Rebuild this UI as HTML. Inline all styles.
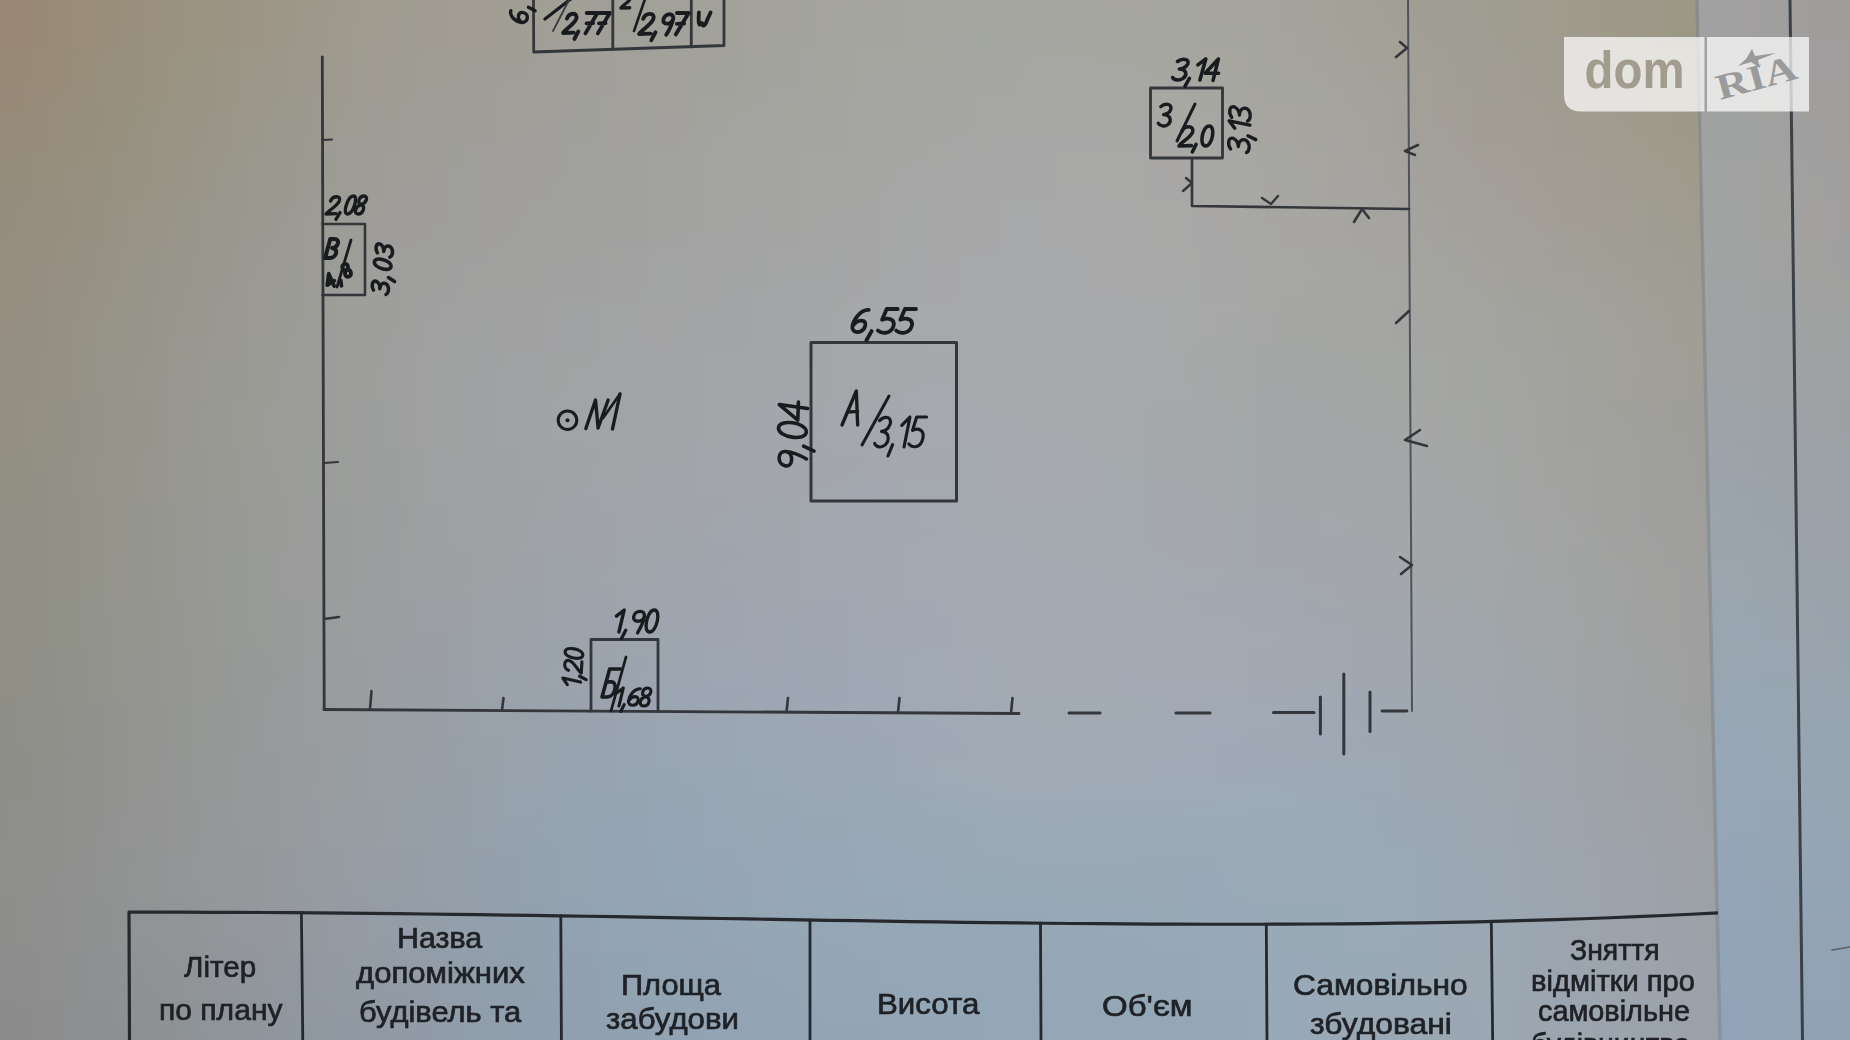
<!DOCTYPE html>
<html><head><meta charset="utf-8"><style>
html,body{margin:0;padding:0;width:1850px;height:1040px;overflow:hidden;background:#a0a2a2}
#root{position:absolute;left:0;top:0;width:1850px;height:1040px;overflow:hidden}
.abs{position:absolute}
.t{position:absolute;font-family:"Liberation Sans",sans-serif;color:#1e2125;-webkit-text-stroke:0.7px #1e2125;white-space:nowrap;line-height:1;transform-origin:0 0}
</style></head><body><div id="root">

<svg style="position:absolute;left:-150px;top:-150px" width="2150" height="1340"><defs><filter id="bp" x="0" y="0" width="2150" height="1340" filterUnits="userSpaceOnUse"><feGaussianBlur stdDeviation="30"/></filter></defs><g filter="url(#bp)"><rect x="0" y="0" width="51" height="51" fill="#998773"/><rect x="50" y="0" width="51" height="51" fill="#998773"/><rect x="100" y="0" width="51" height="51" fill="#998773"/><rect x="150" y="0" width="51" height="51" fill="#998875"/><rect x="200" y="0" width="51" height="51" fill="#998b77"/><rect x="250" y="0" width="51" height="51" fill="#9a8e7b"/><rect x="300" y="0" width="51" height="51" fill="#9a917e"/><rect x="350" y="0" width="51" height="51" fill="#9b9482"/><rect x="400" y="0" width="51" height="51" fill="#9d9686"/><rect x="450" y="0" width="51" height="51" fill="#9e988a"/><rect x="500" y="0" width="51" height="51" fill="#9f9a8e"/><rect x="550" y="0" width="51" height="51" fill="#a09c90"/><rect x="600" y="0" width="51" height="51" fill="#a19d92"/><rect x="650" y="0" width="51" height="51" fill="#a19e94"/><rect x="700" y="0" width="51" height="51" fill="#a19f95"/><rect x="750" y="0" width="51" height="51" fill="#a1a097"/><rect x="800" y="0" width="51" height="51" fill="#a2a198"/><rect x="850" y="0" width="51" height="51" fill="#a2a299"/><rect x="900" y="0" width="51" height="51" fill="#a3a39b"/><rect x="950" y="0" width="51" height="51" fill="#a4a49c"/><rect x="1000" y="0" width="51" height="51" fill="#a4a59d"/><rect x="1050" y="0" width="51" height="51" fill="#a5a69e"/><rect x="1100" y="0" width="51" height="51" fill="#a5a69f"/><rect x="1150" y="0" width="51" height="51" fill="#a5a6a0"/><rect x="1200" y="0" width="51" height="51" fill="#a6a69f"/><rect x="1250" y="0" width="51" height="51" fill="#a5a69f"/><rect x="1300" y="0" width="51" height="51" fill="#a5a59e"/><rect x="1350" y="0" width="51" height="51" fill="#a4a59d"/><rect x="1400" y="0" width="51" height="51" fill="#a4a49b"/><rect x="1450" y="0" width="51" height="51" fill="#a3a399"/><rect x="1500" y="0" width="51" height="51" fill="#a2a196"/><rect x="1550" y="0" width="51" height="51" fill="#a19f93"/><rect x="1600" y="0" width="51" height="51" fill="#a09d91"/><rect x="1650" y="0" width="51" height="51" fill="#9f9b8e"/><rect x="1700" y="0" width="51" height="51" fill="#9e9a8b"/><rect x="1750" y="0" width="51" height="51" fill="#9d9988"/><rect x="1800" y="0" width="51" height="51" fill="#9c9885"/><rect x="1850" y="0" width="51" height="51" fill="#9b9782"/><rect x="1900" y="0" width="51" height="51" fill="#9a9680"/><rect x="1950" y="0" width="51" height="51" fill="#99967e"/><rect x="2000" y="0" width="51" height="51" fill="#99957e"/><rect x="2050" y="0" width="51" height="51" fill="#99957e"/><rect x="2100" y="0" width="51" height="51" fill="#99957e"/><rect x="0" y="50" width="51" height="51" fill="#998773"/><rect x="50" y="50" width="51" height="51" fill="#998773"/><rect x="100" y="50" width="51" height="51" fill="#998773"/><rect x="150" y="50" width="51" height="51" fill="#998875"/><rect x="200" y="50" width="51" height="51" fill="#998b77"/><rect x="250" y="50" width="51" height="51" fill="#9a8e7b"/><rect x="300" y="50" width="51" height="51" fill="#9a917e"/><rect x="350" y="50" width="51" height="51" fill="#9b9482"/><rect x="400" y="50" width="51" height="51" fill="#9d9686"/><rect x="450" y="50" width="51" height="51" fill="#9e988a"/><rect x="500" y="50" width="51" height="51" fill="#9f9a8e"/><rect x="550" y="50" width="51" height="51" fill="#a09c90"/><rect x="600" y="50" width="51" height="51" fill="#a19d92"/><rect x="650" y="50" width="51" height="51" fill="#a19e94"/><rect x="700" y="50" width="51" height="51" fill="#a19f95"/><rect x="750" y="50" width="51" height="51" fill="#a1a097"/><rect x="800" y="50" width="51" height="51" fill="#a2a198"/><rect x="850" y="50" width="51" height="51" fill="#a2a299"/><rect x="900" y="50" width="51" height="51" fill="#a3a39b"/><rect x="950" y="50" width="51" height="51" fill="#a4a49c"/><rect x="1000" y="50" width="51" height="51" fill="#a4a59d"/><rect x="1050" y="50" width="51" height="51" fill="#a5a69e"/><rect x="1100" y="50" width="51" height="51" fill="#a5a69f"/><rect x="1150" y="50" width="51" height="51" fill="#a5a6a0"/><rect x="1200" y="50" width="51" height="51" fill="#a6a69f"/><rect x="1250" y="50" width="51" height="51" fill="#a5a69f"/><rect x="1300" y="50" width="51" height="51" fill="#a5a59e"/><rect x="1350" y="50" width="51" height="51" fill="#a4a59d"/><rect x="1400" y="50" width="51" height="51" fill="#a4a49b"/><rect x="1450" y="50" width="51" height="51" fill="#a3a399"/><rect x="1500" y="50" width="51" height="51" fill="#a2a196"/><rect x="1550" y="50" width="51" height="51" fill="#a19f93"/><rect x="1600" y="50" width="51" height="51" fill="#a09d91"/><rect x="1650" y="50" width="51" height="51" fill="#9f9b8e"/><rect x="1700" y="50" width="51" height="51" fill="#9e9a8b"/><rect x="1750" y="50" width="51" height="51" fill="#9d9988"/><rect x="1800" y="50" width="51" height="51" fill="#9c9885"/><rect x="1850" y="50" width="51" height="51" fill="#9b9782"/><rect x="1900" y="50" width="51" height="51" fill="#9a9680"/><rect x="1950" y="50" width="51" height="51" fill="#99967e"/><rect x="2000" y="50" width="51" height="51" fill="#99957e"/><rect x="2050" y="50" width="51" height="51" fill="#99957e"/><rect x="2100" y="50" width="51" height="51" fill="#99957e"/><rect x="0" y="100" width="51" height="51" fill="#998773"/><rect x="50" y="100" width="51" height="51" fill="#998773"/><rect x="100" y="100" width="51" height="51" fill="#998773"/><rect x="150" y="100" width="51" height="51" fill="#998875"/><rect x="200" y="100" width="51" height="51" fill="#998b77"/><rect x="250" y="100" width="51" height="51" fill="#9a8e7b"/><rect x="300" y="100" width="51" height="51" fill="#9a917e"/><rect x="350" y="100" width="51" height="51" fill="#9b9482"/><rect x="400" y="100" width="51" height="51" fill="#9d9686"/><rect x="450" y="100" width="51" height="51" fill="#9e988a"/><rect x="500" y="100" width="51" height="51" fill="#9f9a8e"/><rect x="550" y="100" width="51" height="51" fill="#a09c90"/><rect x="600" y="100" width="51" height="51" fill="#a19d92"/><rect x="650" y="100" width="51" height="51" fill="#a19e94"/><rect x="700" y="100" width="51" height="51" fill="#a19f95"/><rect x="750" y="100" width="51" height="51" fill="#a1a097"/><rect x="800" y="100" width="51" height="51" fill="#a2a198"/><rect x="850" y="100" width="51" height="51" fill="#a2a299"/><rect x="900" y="100" width="51" height="51" fill="#a3a39b"/><rect x="950" y="100" width="51" height="51" fill="#a4a49c"/><rect x="1000" y="100" width="51" height="51" fill="#a4a59d"/><rect x="1050" y="100" width="51" height="51" fill="#a5a69e"/><rect x="1100" y="100" width="51" height="51" fill="#a5a69f"/><rect x="1150" y="100" width="51" height="51" fill="#a5a6a0"/><rect x="1200" y="100" width="51" height="51" fill="#a6a69f"/><rect x="1250" y="100" width="51" height="51" fill="#a5a69f"/><rect x="1300" y="100" width="51" height="51" fill="#a5a59e"/><rect x="1350" y="100" width="51" height="51" fill="#a4a59d"/><rect x="1400" y="100" width="51" height="51" fill="#a4a49b"/><rect x="1450" y="100" width="51" height="51" fill="#a3a399"/><rect x="1500" y="100" width="51" height="51" fill="#a2a196"/><rect x="1550" y="100" width="51" height="51" fill="#a19f93"/><rect x="1600" y="100" width="51" height="51" fill="#a09d91"/><rect x="1650" y="100" width="51" height="51" fill="#9f9b8e"/><rect x="1700" y="100" width="51" height="51" fill="#9e9a8b"/><rect x="1750" y="100" width="51" height="51" fill="#9d9988"/><rect x="1800" y="100" width="51" height="51" fill="#9c9885"/><rect x="1850" y="100" width="51" height="51" fill="#9b9782"/><rect x="1900" y="100" width="51" height="51" fill="#9a9680"/><rect x="1950" y="100" width="51" height="51" fill="#99967e"/><rect x="2000" y="100" width="51" height="51" fill="#99957e"/><rect x="2050" y="100" width="51" height="51" fill="#99957e"/><rect x="2100" y="100" width="51" height="51" fill="#99957e"/><rect x="0" y="150" width="51" height="51" fill="#998774"/><rect x="50" y="150" width="51" height="51" fill="#998774"/><rect x="100" y="150" width="51" height="51" fill="#998774"/><rect x="150" y="150" width="51" height="51" fill="#998975"/><rect x="200" y="150" width="51" height="51" fill="#998c78"/><rect x="250" y="150" width="51" height="51" fill="#998f7b"/><rect x="300" y="150" width="51" height="51" fill="#9a927f"/><rect x="350" y="150" width="51" height="51" fill="#9b9483"/><rect x="400" y="150" width="51" height="51" fill="#9c9688"/><rect x="450" y="150" width="51" height="51" fill="#9e998c"/><rect x="500" y="150" width="51" height="51" fill="#9f9b8f"/><rect x="550" y="150" width="51" height="51" fill="#a09c92"/><rect x="600" y="150" width="51" height="51" fill="#a19d94"/><rect x="650" y="150" width="51" height="51" fill="#a19e95"/><rect x="700" y="150" width="51" height="51" fill="#a19f97"/><rect x="750" y="150" width="51" height="51" fill="#a1a098"/><rect x="800" y="150" width="51" height="51" fill="#a2a199"/><rect x="850" y="150" width="51" height="51" fill="#a2a29a"/><rect x="900" y="150" width="51" height="51" fill="#a3a39c"/><rect x="950" y="150" width="51" height="51" fill="#a4a49d"/><rect x="1000" y="150" width="51" height="51" fill="#a5a59f"/><rect x="1050" y="150" width="51" height="51" fill="#a5a6a0"/><rect x="1100" y="150" width="51" height="51" fill="#a5a6a0"/><rect x="1150" y="150" width="51" height="51" fill="#a6a6a1"/><rect x="1200" y="150" width="51" height="51" fill="#a6a6a1"/><rect x="1250" y="150" width="51" height="51" fill="#a6a6a0"/><rect x="1300" y="150" width="51" height="51" fill="#a5a69f"/><rect x="1350" y="150" width="51" height="51" fill="#a5a59e"/><rect x="1400" y="150" width="51" height="51" fill="#a4a49c"/><rect x="1450" y="150" width="51" height="51" fill="#a3a39a"/><rect x="1500" y="150" width="51" height="51" fill="#a2a197"/><rect x="1550" y="150" width="51" height="51" fill="#a19f95"/><rect x="1600" y="150" width="51" height="51" fill="#a09d92"/><rect x="1650" y="150" width="51" height="51" fill="#9f9c8f"/><rect x="1700" y="150" width="51" height="51" fill="#9f9a8c"/><rect x="1750" y="150" width="51" height="51" fill="#9e9989"/><rect x="1800" y="150" width="51" height="51" fill="#9c9886"/><rect x="1850" y="150" width="51" height="51" fill="#9b9783"/><rect x="1900" y="150" width="51" height="51" fill="#9a9781"/><rect x="1950" y="150" width="51" height="51" fill="#99967f"/><rect x="2000" y="150" width="51" height="51" fill="#99967f"/><rect x="2050" y="150" width="51" height="51" fill="#99967f"/><rect x="2100" y="150" width="51" height="51" fill="#99967f"/><rect x="0" y="200" width="51" height="51" fill="#988876"/><rect x="50" y="200" width="51" height="51" fill="#988876"/><rect x="100" y="200" width="51" height="51" fill="#988876"/><rect x="150" y="200" width="51" height="51" fill="#988a77"/><rect x="200" y="200" width="51" height="51" fill="#988d7a"/><rect x="250" y="200" width="51" height="51" fill="#98907d"/><rect x="300" y="200" width="51" height="51" fill="#999381"/><rect x="350" y="200" width="51" height="51" fill="#9a9586"/><rect x="400" y="200" width="51" height="51" fill="#9c978a"/><rect x="450" y="200" width="51" height="51" fill="#9d998e"/><rect x="500" y="200" width="51" height="51" fill="#9f9b92"/><rect x="550" y="200" width="51" height="51" fill="#a09d94"/><rect x="600" y="200" width="51" height="51" fill="#a09e96"/><rect x="650" y="200" width="51" height="51" fill="#a09f97"/><rect x="700" y="200" width="51" height="51" fill="#a19f99"/><rect x="750" y="200" width="51" height="51" fill="#a1a09a"/><rect x="800" y="200" width="51" height="51" fill="#a2a19b"/><rect x="850" y="200" width="51" height="51" fill="#a2a29c"/><rect x="900" y="200" width="51" height="51" fill="#a3a39e"/><rect x="950" y="200" width="51" height="51" fill="#a4a59f"/><rect x="1000" y="200" width="51" height="51" fill="#a5a6a1"/><rect x="1050" y="200" width="51" height="51" fill="#a6a6a2"/><rect x="1100" y="200" width="51" height="51" fill="#a6a7a3"/><rect x="1150" y="200" width="51" height="51" fill="#a6a7a3"/><rect x="1200" y="200" width="51" height="51" fill="#a7a7a3"/><rect x="1250" y="200" width="51" height="51" fill="#a7a7a3"/><rect x="1300" y="200" width="51" height="51" fill="#a6a6a2"/><rect x="1350" y="200" width="51" height="51" fill="#a6a6a0"/><rect x="1400" y="200" width="51" height="51" fill="#a5a59f"/><rect x="1450" y="200" width="51" height="51" fill="#a4a49c"/><rect x="1500" y="200" width="51" height="51" fill="#a3a29a"/><rect x="1550" y="200" width="51" height="51" fill="#a2a097"/><rect x="1600" y="200" width="51" height="51" fill="#a19e94"/><rect x="1650" y="200" width="51" height="51" fill="#a19c91"/><rect x="1700" y="200" width="51" height="51" fill="#a09b8e"/><rect x="1750" y="200" width="51" height="51" fill="#9f9a8b"/><rect x="1800" y="200" width="51" height="51" fill="#9d9988"/><rect x="1850" y="200" width="51" height="51" fill="#9c9885"/><rect x="1900" y="200" width="51" height="51" fill="#9b9783"/><rect x="1950" y="200" width="51" height="51" fill="#9a9781"/><rect x="2000" y="200" width="51" height="51" fill="#999680"/><rect x="2050" y="200" width="51" height="51" fill="#999680"/><rect x="2100" y="200" width="51" height="51" fill="#999680"/><rect x="0" y="250" width="51" height="51" fill="#978a78"/><rect x="50" y="250" width="51" height="51" fill="#978a78"/><rect x="100" y="250" width="51" height="51" fill="#978a78"/><rect x="150" y="250" width="51" height="51" fill="#978b79"/><rect x="200" y="250" width="51" height="51" fill="#978e7c"/><rect x="250" y="250" width="51" height="51" fill="#97917f"/><rect x="300" y="250" width="51" height="51" fill="#989384"/><rect x="350" y="250" width="51" height="51" fill="#999688"/><rect x="400" y="250" width="51" height="51" fill="#9b988d"/><rect x="450" y="250" width="51" height="51" fill="#9d9a91"/><rect x="500" y="250" width="51" height="51" fill="#9e9c94"/><rect x="550" y="250" width="51" height="51" fill="#9f9d97"/><rect x="600" y="250" width="51" height="51" fill="#a09e98"/><rect x="650" y="250" width="51" height="51" fill="#a09f9a"/><rect x="700" y="250" width="51" height="51" fill="#a0a09b"/><rect x="750" y="250" width="51" height="51" fill="#a1a09c"/><rect x="800" y="250" width="51" height="51" fill="#a2a19d"/><rect x="850" y="250" width="51" height="51" fill="#a3a39e"/><rect x="900" y="250" width="51" height="51" fill="#a4a4a0"/><rect x="950" y="250" width="51" height="51" fill="#a4a5a1"/><rect x="1000" y="250" width="51" height="51" fill="#a5a6a3"/><rect x="1050" y="250" width="51" height="51" fill="#a6a6a4"/><rect x="1100" y="250" width="51" height="51" fill="#a6a7a5"/><rect x="1150" y="250" width="51" height="51" fill="#a7a7a6"/><rect x="1200" y="250" width="51" height="51" fill="#a7a7a6"/><rect x="1250" y="250" width="51" height="51" fill="#a7a7a5"/><rect x="1300" y="250" width="51" height="51" fill="#a7a7a4"/><rect x="1350" y="250" width="51" height="51" fill="#a7a6a2"/><rect x="1400" y="250" width="51" height="51" fill="#a6a5a1"/><rect x="1450" y="250" width="51" height="51" fill="#a5a49e"/><rect x="1500" y="250" width="51" height="51" fill="#a4a29c"/><rect x="1550" y="250" width="51" height="51" fill="#a3a099"/><rect x="1600" y="250" width="51" height="51" fill="#a29e96"/><rect x="1650" y="250" width="51" height="51" fill="#a29d93"/><rect x="1700" y="250" width="51" height="51" fill="#a19b90"/><rect x="1750" y="250" width="51" height="51" fill="#a09a8d"/><rect x="1800" y="250" width="51" height="51" fill="#9e9a8a"/><rect x="1850" y="250" width="51" height="51" fill="#9c9987"/><rect x="1900" y="250" width="51" height="51" fill="#9b9885"/><rect x="1950" y="250" width="51" height="51" fill="#9a9784"/><rect x="2000" y="250" width="51" height="51" fill="#9a9783"/><rect x="2050" y="250" width="51" height="51" fill="#9a9783"/><rect x="2100" y="250" width="51" height="51" fill="#9a9783"/><rect x="0" y="300" width="51" height="51" fill="#968b7a"/><rect x="50" y="300" width="51" height="51" fill="#968b7a"/><rect x="100" y="300" width="51" height="51" fill="#968b7a"/><rect x="150" y="300" width="51" height="51" fill="#968c7c"/><rect x="200" y="300" width="51" height="51" fill="#978f7f"/><rect x="250" y="300" width="51" height="51" fill="#979282"/><rect x="300" y="300" width="51" height="51" fill="#989486"/><rect x="350" y="300" width="51" height="51" fill="#99968b"/><rect x="400" y="300" width="51" height="51" fill="#9b998f"/><rect x="450" y="300" width="51" height="51" fill="#9c9b93"/><rect x="500" y="300" width="51" height="51" fill="#9e9c96"/><rect x="550" y="300" width="51" height="51" fill="#9f9e99"/><rect x="600" y="300" width="51" height="51" fill="#a09f9b"/><rect x="650" y="300" width="51" height="51" fill="#a09f9c"/><rect x="700" y="300" width="51" height="51" fill="#a0a09d"/><rect x="750" y="300" width="51" height="51" fill="#a1a19e"/><rect x="800" y="300" width="51" height="51" fill="#a2a29f"/><rect x="850" y="300" width="51" height="51" fill="#a3a3a0"/><rect x="900" y="300" width="51" height="51" fill="#a4a4a2"/><rect x="950" y="300" width="51" height="51" fill="#a5a5a3"/><rect x="1000" y="300" width="51" height="51" fill="#a6a6a5"/><rect x="1050" y="300" width="51" height="51" fill="#a6a7a6"/><rect x="1100" y="300" width="51" height="51" fill="#a7a7a7"/><rect x="1150" y="300" width="51" height="51" fill="#a7a7a7"/><rect x="1200" y="300" width="51" height="51" fill="#a8a8a7"/><rect x="1250" y="300" width="51" height="51" fill="#a8a8a7"/><rect x="1300" y="300" width="51" height="51" fill="#a8a7a6"/><rect x="1350" y="300" width="51" height="51" fill="#a7a7a4"/><rect x="1400" y="300" width="51" height="51" fill="#a6a6a2"/><rect x="1450" y="300" width="51" height="51" fill="#a6a5a0"/><rect x="1500" y="300" width="51" height="51" fill="#a5a39e"/><rect x="1550" y="300" width="51" height="51" fill="#a4a19c"/><rect x="1600" y="300" width="51" height="51" fill="#a39f99"/><rect x="1650" y="300" width="51" height="51" fill="#a39e96"/><rect x="1700" y="300" width="51" height="51" fill="#a29c93"/><rect x="1750" y="300" width="51" height="51" fill="#a19c90"/><rect x="1800" y="300" width="51" height="51" fill="#9f9b8d"/><rect x="1850" y="300" width="51" height="51" fill="#9d9a8a"/><rect x="1900" y="300" width="51" height="51" fill="#9c9988"/><rect x="1950" y="300" width="51" height="51" fill="#9b9886"/><rect x="2000" y="300" width="51" height="51" fill="#9b9885"/><rect x="2050" y="300" width="51" height="51" fill="#9b9885"/><rect x="2100" y="300" width="51" height="51" fill="#9b9885"/><rect x="0" y="350" width="51" height="51" fill="#968b7d"/><rect x="50" y="350" width="51" height="51" fill="#968b7d"/><rect x="100" y="350" width="51" height="51" fill="#968b7d"/><rect x="150" y="350" width="51" height="51" fill="#968d7e"/><rect x="200" y="350" width="51" height="51" fill="#969082"/><rect x="250" y="350" width="51" height="51" fill="#979285"/><rect x="300" y="350" width="51" height="51" fill="#989589"/><rect x="350" y="350" width="51" height="51" fill="#99978d"/><rect x="400" y="350" width="51" height="51" fill="#9b9991"/><rect x="450" y="350" width="51" height="51" fill="#9c9b95"/><rect x="500" y="350" width="51" height="51" fill="#9e9d99"/><rect x="550" y="350" width="51" height="51" fill="#9f9e9b"/><rect x="600" y="350" width="51" height="51" fill="#a09f9d"/><rect x="650" y="350" width="51" height="51" fill="#a0a09e"/><rect x="700" y="350" width="51" height="51" fill="#a1a19f"/><rect x="750" y="350" width="51" height="51" fill="#a1a1a0"/><rect x="800" y="350" width="51" height="51" fill="#a2a2a1"/><rect x="850" y="350" width="51" height="51" fill="#a3a3a2"/><rect x="900" y="350" width="51" height="51" fill="#a4a4a3"/><rect x="950" y="350" width="51" height="51" fill="#a5a5a5"/><rect x="1000" y="350" width="51" height="51" fill="#a6a6a6"/><rect x="1050" y="350" width="51" height="51" fill="#a6a7a7"/><rect x="1100" y="350" width="51" height="51" fill="#a7a7a8"/><rect x="1150" y="350" width="51" height="51" fill="#a7a8a9"/><rect x="1200" y="350" width="51" height="51" fill="#a8a8a9"/><rect x="1250" y="350" width="51" height="51" fill="#a8a8a8"/><rect x="1300" y="350" width="51" height="51" fill="#a8a8a7"/><rect x="1350" y="350" width="51" height="51" fill="#a8a7a6"/><rect x="1400" y="350" width="51" height="51" fill="#a7a6a4"/><rect x="1450" y="350" width="51" height="51" fill="#a6a5a2"/><rect x="1500" y="350" width="51" height="51" fill="#a5a4a0"/><rect x="1550" y="350" width="51" height="51" fill="#a4a29e"/><rect x="1600" y="350" width="51" height="51" fill="#a4a19b"/><rect x="1650" y="350" width="51" height="51" fill="#a39f99"/><rect x="1700" y="350" width="51" height="51" fill="#a29e96"/><rect x="1750" y="350" width="51" height="51" fill="#a19d93"/><rect x="1800" y="350" width="51" height="51" fill="#9f9c90"/><rect x="1850" y="350" width="51" height="51" fill="#9e9b8d"/><rect x="1900" y="350" width="51" height="51" fill="#9d9a8b"/><rect x="1950" y="350" width="51" height="51" fill="#9c9989"/><rect x="2000" y="350" width="51" height="51" fill="#9c9888"/><rect x="2050" y="350" width="51" height="51" fill="#9c9888"/><rect x="2100" y="350" width="51" height="51" fill="#9c9888"/><rect x="0" y="400" width="51" height="51" fill="#958c7f"/><rect x="50" y="400" width="51" height="51" fill="#958c7f"/><rect x="100" y="400" width="51" height="51" fill="#958c7f"/><rect x="150" y="400" width="51" height="51" fill="#968d80"/><rect x="200" y="400" width="51" height="51" fill="#969084"/><rect x="250" y="400" width="51" height="51" fill="#979387"/><rect x="300" y="400" width="51" height="51" fill="#98968b"/><rect x="350" y="400" width="51" height="51" fill="#999890"/><rect x="400" y="400" width="51" height="51" fill="#9b9a94"/><rect x="450" y="400" width="51" height="51" fill="#9c9c97"/><rect x="500" y="400" width="51" height="51" fill="#9e9e9b"/><rect x="550" y="400" width="51" height="51" fill="#9f9f9e"/><rect x="600" y="400" width="51" height="51" fill="#a0a09f"/><rect x="650" y="400" width="51" height="51" fill="#a1a1a0"/><rect x="700" y="400" width="51" height="51" fill="#a1a1a1"/><rect x="750" y="400" width="51" height="51" fill="#a2a2a2"/><rect x="800" y="400" width="51" height="51" fill="#a2a3a3"/><rect x="850" y="400" width="51" height="51" fill="#a3a4a4"/><rect x="900" y="400" width="51" height="51" fill="#a4a5a5"/><rect x="950" y="400" width="51" height="51" fill="#a5a6a6"/><rect x="1000" y="400" width="51" height="51" fill="#a6a6a8"/><rect x="1050" y="400" width="51" height="51" fill="#a6a7a9"/><rect x="1100" y="400" width="51" height="51" fill="#a7a8a9"/><rect x="1150" y="400" width="51" height="51" fill="#a7a8aa"/><rect x="1200" y="400" width="51" height="51" fill="#a7a8a9"/><rect x="1250" y="400" width="51" height="51" fill="#a8a8a9"/><rect x="1300" y="400" width="51" height="51" fill="#a8a8a8"/><rect x="1350" y="400" width="51" height="51" fill="#a7a7a7"/><rect x="1400" y="400" width="51" height="51" fill="#a7a7a5"/><rect x="1450" y="400" width="51" height="51" fill="#a6a6a3"/><rect x="1500" y="400" width="51" height="51" fill="#a5a5a1"/><rect x="1550" y="400" width="51" height="51" fill="#a4a4a0"/><rect x="1600" y="400" width="51" height="51" fill="#a3a29e"/><rect x="1650" y="400" width="51" height="51" fill="#a2a19c"/><rect x="1700" y="400" width="51" height="51" fill="#a2a099"/><rect x="1750" y="400" width="51" height="51" fill="#a19f96"/><rect x="1800" y="400" width="51" height="51" fill="#a09e93"/><rect x="1850" y="400" width="51" height="51" fill="#9f9c91"/><rect x="1900" y="400" width="51" height="51" fill="#9e9b8e"/><rect x="1950" y="400" width="51" height="51" fill="#9d998c"/><rect x="2000" y="400" width="51" height="51" fill="#9c998a"/><rect x="2050" y="400" width="51" height="51" fill="#9c998a"/><rect x="2100" y="400" width="51" height="51" fill="#9c998a"/><rect x="0" y="450" width="51" height="51" fill="#948d80"/><rect x="50" y="450" width="51" height="51" fill="#948d80"/><rect x="100" y="450" width="51" height="51" fill="#948d80"/><rect x="150" y="450" width="51" height="51" fill="#958e82"/><rect x="200" y="450" width="51" height="51" fill="#969185"/><rect x="250" y="450" width="51" height="51" fill="#979489"/><rect x="300" y="450" width="51" height="51" fill="#98968d"/><rect x="350" y="450" width="51" height="51" fill="#999991"/><rect x="400" y="450" width="51" height="51" fill="#9b9b95"/><rect x="450" y="450" width="51" height="51" fill="#9c9d99"/><rect x="500" y="450" width="51" height="51" fill="#9e9e9c"/><rect x="550" y="450" width="51" height="51" fill="#9fa09f"/><rect x="600" y="450" width="51" height="51" fill="#a0a1a1"/><rect x="650" y="450" width="51" height="51" fill="#a1a1a2"/><rect x="700" y="450" width="51" height="51" fill="#a1a2a3"/><rect x="750" y="450" width="51" height="51" fill="#a2a3a4"/><rect x="800" y="450" width="51" height="51" fill="#a3a4a4"/><rect x="850" y="450" width="51" height="51" fill="#a3a4a6"/><rect x="900" y="450" width="51" height="51" fill="#a4a5a7"/><rect x="950" y="450" width="51" height="51" fill="#a5a6a8"/><rect x="1000" y="450" width="51" height="51" fill="#a5a7a9"/><rect x="1050" y="450" width="51" height="51" fill="#a6a8aa"/><rect x="1100" y="450" width="51" height="51" fill="#a6a8aa"/><rect x="1150" y="450" width="51" height="51" fill="#a6a9aa"/><rect x="1200" y="450" width="51" height="51" fill="#a7a9aa"/><rect x="1250" y="450" width="51" height="51" fill="#a7a9aa"/><rect x="1300" y="450" width="51" height="51" fill="#a7a8a8"/><rect x="1350" y="450" width="51" height="51" fill="#a6a8a7"/><rect x="1400" y="450" width="51" height="51" fill="#a6a7a5"/><rect x="1450" y="450" width="51" height="51" fill="#a5a6a4"/><rect x="1500" y="450" width="51" height="51" fill="#a5a5a3"/><rect x="1550" y="450" width="51" height="51" fill="#a4a5a2"/><rect x="1600" y="450" width="51" height="51" fill="#a3a4a0"/><rect x="1650" y="450" width="51" height="51" fill="#a2a39e"/><rect x="1700" y="450" width="51" height="51" fill="#a1a29b"/><rect x="1750" y="450" width="51" height="51" fill="#a1a099"/><rect x="1800" y="450" width="51" height="51" fill="#a19e96"/><rect x="1850" y="450" width="51" height="51" fill="#a09d93"/><rect x="1900" y="450" width="51" height="51" fill="#9f9b91"/><rect x="1950" y="450" width="51" height="51" fill="#9d9a8e"/><rect x="2000" y="450" width="51" height="51" fill="#9d998d"/><rect x="2050" y="450" width="51" height="51" fill="#9d998d"/><rect x="2100" y="450" width="51" height="51" fill="#9d998d"/><rect x="0" y="500" width="51" height="51" fill="#938d81"/><rect x="50" y="500" width="51" height="51" fill="#938d81"/><rect x="100" y="500" width="51" height="51" fill="#938d81"/><rect x="150" y="500" width="51" height="51" fill="#948f82"/><rect x="200" y="500" width="51" height="51" fill="#959186"/><rect x="250" y="500" width="51" height="51" fill="#96948a"/><rect x="300" y="500" width="51" height="51" fill="#98978f"/><rect x="350" y="500" width="51" height="51" fill="#999993"/><rect x="400" y="500" width="51" height="51" fill="#9b9b97"/><rect x="450" y="500" width="51" height="51" fill="#9c9d9a"/><rect x="500" y="500" width="51" height="51" fill="#9e9f9d"/><rect x="550" y="500" width="51" height="51" fill="#9fa0a0"/><rect x="600" y="500" width="51" height="51" fill="#a0a1a2"/><rect x="650" y="500" width="51" height="51" fill="#a1a2a3"/><rect x="700" y="500" width="51" height="51" fill="#a1a3a4"/><rect x="750" y="500" width="51" height="51" fill="#a2a3a5"/><rect x="800" y="500" width="51" height="51" fill="#a2a4a6"/><rect x="850" y="500" width="51" height="51" fill="#a3a5a7"/><rect x="900" y="500" width="51" height="51" fill="#a4a5a8"/><rect x="950" y="500" width="51" height="51" fill="#a5a6aa"/><rect x="1000" y="500" width="51" height="51" fill="#a5a7aa"/><rect x="1050" y="500" width="51" height="51" fill="#a5a8ab"/><rect x="1100" y="500" width="51" height="51" fill="#a5a9ab"/><rect x="1150" y="500" width="51" height="51" fill="#a6a9ab"/><rect x="1200" y="500" width="51" height="51" fill="#a6a9ab"/><rect x="1250" y="500" width="51" height="51" fill="#a6a9aa"/><rect x="1300" y="500" width="51" height="51" fill="#a6a8a9"/><rect x="1350" y="500" width="51" height="51" fill="#a5a8a7"/><rect x="1400" y="500" width="51" height="51" fill="#a4a7a6"/><rect x="1450" y="500" width="51" height="51" fill="#a4a7a5"/><rect x="1500" y="500" width="51" height="51" fill="#a4a6a4"/><rect x="1550" y="500" width="51" height="51" fill="#a4a6a3"/><rect x="1600" y="500" width="51" height="51" fill="#a4a5a2"/><rect x="1650" y="500" width="51" height="51" fill="#a2a4a0"/><rect x="1700" y="500" width="51" height="51" fill="#a1a29d"/><rect x="1750" y="500" width="51" height="51" fill="#a1a09a"/><rect x="1800" y="500" width="51" height="51" fill="#a19f98"/><rect x="1850" y="500" width="51" height="51" fill="#a09d96"/><rect x="1900" y="500" width="51" height="51" fill="#9f9c93"/><rect x="1950" y="500" width="51" height="51" fill="#9d9a91"/><rect x="2000" y="500" width="51" height="51" fill="#9d9a8f"/><rect x="2050" y="500" width="51" height="51" fill="#9d9a8f"/><rect x="2100" y="500" width="51" height="51" fill="#9d9a8f"/><rect x="0" y="550" width="51" height="51" fill="#928e81"/><rect x="50" y="550" width="51" height="51" fill="#928e81"/><rect x="100" y="550" width="51" height="51" fill="#928e81"/><rect x="150" y="550" width="51" height="51" fill="#938f83"/><rect x="200" y="550" width="51" height="51" fill="#949287"/><rect x="250" y="550" width="51" height="51" fill="#96948b"/><rect x="300" y="550" width="51" height="51" fill="#97978f"/><rect x="350" y="550" width="51" height="51" fill="#999a94"/><rect x="400" y="550" width="51" height="51" fill="#9b9c97"/><rect x="450" y="550" width="51" height="51" fill="#9c9d9b"/><rect x="500" y="550" width="51" height="51" fill="#9d9f9e"/><rect x="550" y="550" width="51" height="51" fill="#9fa0a0"/><rect x="600" y="550" width="51" height="51" fill="#a0a1a2"/><rect x="650" y="550" width="51" height="51" fill="#a0a2a4"/><rect x="700" y="550" width="51" height="51" fill="#a1a3a5"/><rect x="750" y="550" width="51" height="51" fill="#a1a4a6"/><rect x="800" y="550" width="51" height="51" fill="#a2a4a7"/><rect x="850" y="550" width="51" height="51" fill="#a3a5a9"/><rect x="900" y="550" width="51" height="51" fill="#a3a6aa"/><rect x="950" y="550" width="51" height="51" fill="#a4a6ab"/><rect x="1000" y="550" width="51" height="51" fill="#a4a7ac"/><rect x="1050" y="550" width="51" height="51" fill="#a5a8ad"/><rect x="1100" y="550" width="51" height="51" fill="#a5a9ad"/><rect x="1150" y="550" width="51" height="51" fill="#a5a9ac"/><rect x="1200" y="550" width="51" height="51" fill="#a5a9ac"/><rect x="1250" y="550" width="51" height="51" fill="#a5a9ab"/><rect x="1300" y="550" width="51" height="51" fill="#a5a8aa"/><rect x="1350" y="550" width="51" height="51" fill="#a4a8a8"/><rect x="1400" y="550" width="51" height="51" fill="#a3a7a7"/><rect x="1450" y="550" width="51" height="51" fill="#a4a7a7"/><rect x="1500" y="550" width="51" height="51" fill="#a4a7a6"/><rect x="1550" y="550" width="51" height="51" fill="#a5a6a5"/><rect x="1600" y="550" width="51" height="51" fill="#a4a6a4"/><rect x="1650" y="550" width="51" height="51" fill="#a3a4a1"/><rect x="1700" y="550" width="51" height="51" fill="#a1a29e"/><rect x="1750" y="550" width="51" height="51" fill="#a0a09c"/><rect x="1800" y="550" width="51" height="51" fill="#9f9f9a"/><rect x="1850" y="550" width="51" height="51" fill="#9f9d97"/><rect x="1900" y="550" width="51" height="51" fill="#9e9c95"/><rect x="1950" y="550" width="51" height="51" fill="#9d9a92"/><rect x="2000" y="550" width="51" height="51" fill="#9d9a91"/><rect x="2050" y="550" width="51" height="51" fill="#9d9a91"/><rect x="2100" y="550" width="51" height="51" fill="#9d9a91"/><rect x="0" y="600" width="51" height="51" fill="#918e81"/><rect x="50" y="600" width="51" height="51" fill="#918e81"/><rect x="100" y="600" width="51" height="51" fill="#918e81"/><rect x="150" y="600" width="51" height="51" fill="#928f83"/><rect x="200" y="600" width="51" height="51" fill="#939287"/><rect x="250" y="600" width="51" height="51" fill="#95958c"/><rect x="300" y="600" width="51" height="51" fill="#979790"/><rect x="350" y="600" width="51" height="51" fill="#999994"/><rect x="400" y="600" width="51" height="51" fill="#9a9c98"/><rect x="450" y="600" width="51" height="51" fill="#9c9d9b"/><rect x="500" y="600" width="51" height="51" fill="#9d9f9e"/><rect x="550" y="600" width="51" height="51" fill="#9ea0a1"/><rect x="600" y="600" width="51" height="51" fill="#9fa1a3"/><rect x="650" y="600" width="51" height="51" fill="#a0a2a4"/><rect x="700" y="600" width="51" height="51" fill="#a0a3a6"/><rect x="750" y="600" width="51" height="51" fill="#a1a4a7"/><rect x="800" y="600" width="51" height="51" fill="#a1a5a9"/><rect x="850" y="600" width="51" height="51" fill="#a2a5aa"/><rect x="900" y="600" width="51" height="51" fill="#a3a6ac"/><rect x="950" y="600" width="51" height="51" fill="#a3a7ad"/><rect x="1000" y="600" width="51" height="51" fill="#a4a7ae"/><rect x="1050" y="600" width="51" height="51" fill="#a4a8ae"/><rect x="1100" y="600" width="51" height="51" fill="#a4a9ae"/><rect x="1150" y="600" width="51" height="51" fill="#a5a9ae"/><rect x="1200" y="600" width="51" height="51" fill="#a5a9ad"/><rect x="1250" y="600" width="51" height="51" fill="#a4a9ac"/><rect x="1300" y="600" width="51" height="51" fill="#a4a8ab"/><rect x="1350" y="600" width="51" height="51" fill="#a4a8aa"/><rect x="1400" y="600" width="51" height="51" fill="#a3a7a9"/><rect x="1450" y="600" width="51" height="51" fill="#a4a7a9"/><rect x="1500" y="600" width="51" height="51" fill="#a4a7a8"/><rect x="1550" y="600" width="51" height="51" fill="#a4a7a7"/><rect x="1600" y="600" width="51" height="51" fill="#a4a6a5"/><rect x="1650" y="600" width="51" height="51" fill="#a3a5a3"/><rect x="1700" y="600" width="51" height="51" fill="#a2a3a0"/><rect x="1750" y="600" width="51" height="51" fill="#a0a19e"/><rect x="1800" y="600" width="51" height="51" fill="#9f9f9b"/><rect x="1850" y="600" width="51" height="51" fill="#9e9d99"/><rect x="1900" y="600" width="51" height="51" fill="#9e9c97"/><rect x="1950" y="600" width="51" height="51" fill="#9d9b94"/><rect x="2000" y="600" width="51" height="51" fill="#9d9a93"/><rect x="2050" y="600" width="51" height="51" fill="#9d9a93"/><rect x="2100" y="600" width="51" height="51" fill="#9d9a93"/><rect x="0" y="650" width="51" height="51" fill="#908e82"/><rect x="50" y="650" width="51" height="51" fill="#908e82"/><rect x="100" y="650" width="51" height="51" fill="#908e82"/><rect x="150" y="650" width="51" height="51" fill="#918f84"/><rect x="200" y="650" width="51" height="51" fill="#939288"/><rect x="250" y="650" width="51" height="51" fill="#94948c"/><rect x="300" y="650" width="51" height="51" fill="#969790"/><rect x="350" y="650" width="51" height="51" fill="#989994"/><rect x="400" y="650" width="51" height="51" fill="#9a9b98"/><rect x="450" y="650" width="51" height="51" fill="#9b9d9b"/><rect x="500" y="650" width="51" height="51" fill="#9c9e9e"/><rect x="550" y="650" width="51" height="51" fill="#9da0a1"/><rect x="600" y="650" width="51" height="51" fill="#9ea1a3"/><rect x="650" y="650" width="51" height="51" fill="#9fa2a5"/><rect x="700" y="650" width="51" height="51" fill="#9fa3a7"/><rect x="750" y="650" width="51" height="51" fill="#a0a4a9"/><rect x="800" y="650" width="51" height="51" fill="#a1a5aa"/><rect x="850" y="650" width="51" height="51" fill="#a1a5ac"/><rect x="900" y="650" width="51" height="51" fill="#a2a6ae"/><rect x="950" y="650" width="51" height="51" fill="#a3a7af"/><rect x="1000" y="650" width="51" height="51" fill="#a3a7b0"/><rect x="1050" y="650" width="51" height="51" fill="#a4a8b0"/><rect x="1100" y="650" width="51" height="51" fill="#a4a9b0"/><rect x="1150" y="650" width="51" height="51" fill="#a4a9b0"/><rect x="1200" y="650" width="51" height="51" fill="#a4a9af"/><rect x="1250" y="650" width="51" height="51" fill="#a4a9ae"/><rect x="1300" y="650" width="51" height="51" fill="#a4a8ad"/><rect x="1350" y="650" width="51" height="51" fill="#a4a8ac"/><rect x="1400" y="650" width="51" height="51" fill="#a3a7ac"/><rect x="1450" y="650" width="51" height="51" fill="#a4a7ab"/><rect x="1500" y="650" width="51" height="51" fill="#a4a7aa"/><rect x="1550" y="650" width="51" height="51" fill="#a4a7a9"/><rect x="1600" y="650" width="51" height="51" fill="#a4a6a7"/><rect x="1650" y="650" width="51" height="51" fill="#a3a5a4"/><rect x="1700" y="650" width="51" height="51" fill="#a2a3a2"/><rect x="1750" y="650" width="51" height="51" fill="#a0a19f"/><rect x="1800" y="650" width="51" height="51" fill="#9f9f9d"/><rect x="1850" y="650" width="51" height="51" fill="#9e9e9b"/><rect x="1900" y="650" width="51" height="51" fill="#9e9c98"/><rect x="1950" y="650" width="51" height="51" fill="#9d9b96"/><rect x="2000" y="650" width="51" height="51" fill="#9d9a95"/><rect x="2050" y="650" width="51" height="51" fill="#9d9a95"/><rect x="2100" y="650" width="51" height="51" fill="#9d9a95"/><rect x="0" y="700" width="51" height="51" fill="#8f8e83"/><rect x="50" y="700" width="51" height="51" fill="#8f8e83"/><rect x="100" y="700" width="51" height="51" fill="#8f8e83"/><rect x="150" y="700" width="51" height="51" fill="#908f85"/><rect x="200" y="700" width="51" height="51" fill="#929288"/><rect x="250" y="700" width="51" height="51" fill="#94948d"/><rect x="300" y="700" width="51" height="51" fill="#969791"/><rect x="350" y="700" width="51" height="51" fill="#979995"/><rect x="400" y="700" width="51" height="51" fill="#999b99"/><rect x="450" y="700" width="51" height="51" fill="#9b9d9c"/><rect x="500" y="700" width="51" height="51" fill="#9c9e9f"/><rect x="550" y="700" width="51" height="51" fill="#9d9fa2"/><rect x="600" y="700" width="51" height="51" fill="#9da1a4"/><rect x="650" y="700" width="51" height="51" fill="#9ea2a6"/><rect x="700" y="700" width="51" height="51" fill="#9ea3a8"/><rect x="750" y="700" width="51" height="51" fill="#9fa4aa"/><rect x="800" y="700" width="51" height="51" fill="#9fa5ac"/><rect x="850" y="700" width="51" height="51" fill="#a0a5ae"/><rect x="900" y="700" width="51" height="51" fill="#a1a6af"/><rect x="950" y="700" width="51" height="51" fill="#a2a7b1"/><rect x="1000" y="700" width="51" height="51" fill="#a2a7b1"/><rect x="1050" y="700" width="51" height="51" fill="#a3a8b2"/><rect x="1100" y="700" width="51" height="51" fill="#a4a9b2"/><rect x="1150" y="700" width="51" height="51" fill="#a4a9b1"/><rect x="1200" y="700" width="51" height="51" fill="#a4a9b1"/><rect x="1250" y="700" width="51" height="51" fill="#a4a9b0"/><rect x="1300" y="700" width="51" height="51" fill="#a4a8af"/><rect x="1350" y="700" width="51" height="51" fill="#a4a8af"/><rect x="1400" y="700" width="51" height="51" fill="#a3a7ae"/><rect x="1450" y="700" width="51" height="51" fill="#a3a7ad"/><rect x="1500" y="700" width="51" height="51" fill="#a3a7ac"/><rect x="1550" y="700" width="51" height="51" fill="#a3a7aa"/><rect x="1600" y="700" width="51" height="51" fill="#a2a6a8"/><rect x="1650" y="700" width="51" height="51" fill="#a2a5a5"/><rect x="1700" y="700" width="51" height="51" fill="#a1a4a3"/><rect x="1750" y="700" width="51" height="51" fill="#a1a2a1"/><rect x="1800" y="700" width="51" height="51" fill="#a0a09f"/><rect x="1850" y="700" width="51" height="51" fill="#9f9e9c"/><rect x="1900" y="700" width="51" height="51" fill="#9e9d99"/><rect x="1950" y="700" width="51" height="51" fill="#9d9b97"/><rect x="2000" y="700" width="51" height="51" fill="#9d9b96"/><rect x="2050" y="700" width="51" height="51" fill="#9d9b96"/><rect x="2100" y="700" width="51" height="51" fill="#9d9b96"/><rect x="0" y="750" width="51" height="51" fill="#8f8e84"/><rect x="50" y="750" width="51" height="51" fill="#8f8e84"/><rect x="100" y="750" width="51" height="51" fill="#8f8e84"/><rect x="150" y="750" width="51" height="51" fill="#8f8f85"/><rect x="200" y="750" width="51" height="51" fill="#919289"/><rect x="250" y="750" width="51" height="51" fill="#93948d"/><rect x="300" y="750" width="51" height="51" fill="#959691"/><rect x="350" y="750" width="51" height="51" fill="#979995"/><rect x="400" y="750" width="51" height="51" fill="#999b99"/><rect x="450" y="750" width="51" height="51" fill="#9a9c9c"/><rect x="500" y="750" width="51" height="51" fill="#9b9ea0"/><rect x="550" y="750" width="51" height="51" fill="#9c9fa3"/><rect x="600" y="750" width="51" height="51" fill="#9ca1a5"/><rect x="650" y="750" width="51" height="51" fill="#9ca2a8"/><rect x="700" y="750" width="51" height="51" fill="#9ca3aa"/><rect x="750" y="750" width="51" height="51" fill="#9da4ac"/><rect x="800" y="750" width="51" height="51" fill="#9ea5ae"/><rect x="850" y="750" width="51" height="51" fill="#9fa5b0"/><rect x="900" y="750" width="51" height="51" fill="#a0a6b1"/><rect x="950" y="750" width="51" height="51" fill="#a1a7b2"/><rect x="1000" y="750" width="51" height="51" fill="#a1a8b3"/><rect x="1050" y="750" width="51" height="51" fill="#a2a8b3"/><rect x="1100" y="750" width="51" height="51" fill="#a3a9b3"/><rect x="1150" y="750" width="51" height="51" fill="#a4a9b3"/><rect x="1200" y="750" width="51" height="51" fill="#a4a9b2"/><rect x="1250" y="750" width="51" height="51" fill="#a4a9b2"/><rect x="1300" y="750" width="51" height="51" fill="#a4a9b1"/><rect x="1350" y="750" width="51" height="51" fill="#a3a8b1"/><rect x="1400" y="750" width="51" height="51" fill="#a3a8b0"/><rect x="1450" y="750" width="51" height="51" fill="#a2a7af"/><rect x="1500" y="750" width="51" height="51" fill="#a2a7ae"/><rect x="1550" y="750" width="51" height="51" fill="#a1a6ac"/><rect x="1600" y="750" width="51" height="51" fill="#a1a6aa"/><rect x="1650" y="750" width="51" height="51" fill="#a1a5a7"/><rect x="1700" y="750" width="51" height="51" fill="#a1a4a4"/><rect x="1750" y="750" width="51" height="51" fill="#a0a2a2"/><rect x="1800" y="750" width="51" height="51" fill="#a0a09f"/><rect x="1850" y="750" width="51" height="51" fill="#9f9e9d"/><rect x="1900" y="750" width="51" height="51" fill="#9e9d9a"/><rect x="1950" y="750" width="51" height="51" fill="#9d9c98"/><rect x="2000" y="750" width="51" height="51" fill="#9c9b97"/><rect x="2050" y="750" width="51" height="51" fill="#9c9b97"/><rect x="2100" y="750" width="51" height="51" fill="#9c9b97"/><rect x="0" y="800" width="51" height="51" fill="#8e8e84"/><rect x="50" y="800" width="51" height="51" fill="#8e8e84"/><rect x="100" y="800" width="51" height="51" fill="#8e8e84"/><rect x="150" y="800" width="51" height="51" fill="#8f8f86"/><rect x="200" y="800" width="51" height="51" fill="#90918a"/><rect x="250" y="800" width="51" height="51" fill="#92948e"/><rect x="300" y="800" width="51" height="51" fill="#959692"/><rect x="350" y="800" width="51" height="51" fill="#969896"/><rect x="400" y="800" width="51" height="51" fill="#989a9a"/><rect x="450" y="800" width="51" height="51" fill="#999c9d"/><rect x="500" y="800" width="51" height="51" fill="#9a9ea1"/><rect x="550" y="800" width="51" height="51" fill="#9a9fa4"/><rect x="600" y="800" width="51" height="51" fill="#9aa1a7"/><rect x="650" y="800" width="51" height="51" fill="#9aa2aa"/><rect x="700" y="800" width="51" height="51" fill="#9ba3ac"/><rect x="750" y="800" width="51" height="51" fill="#9ba4ae"/><rect x="800" y="800" width="51" height="51" fill="#9ca5b0"/><rect x="850" y="800" width="51" height="51" fill="#9da6b1"/><rect x="900" y="800" width="51" height="51" fill="#9ea6b3"/><rect x="950" y="800" width="51" height="51" fill="#9fa7b3"/><rect x="1000" y="800" width="51" height="51" fill="#a0a8b4"/><rect x="1050" y="800" width="51" height="51" fill="#a1a9b4"/><rect x="1100" y="800" width="51" height="51" fill="#a2a9b4"/><rect x="1150" y="800" width="51" height="51" fill="#a3aab4"/><rect x="1200" y="800" width="51" height="51" fill="#a3aab4"/><rect x="1250" y="800" width="51" height="51" fill="#a3a9b3"/><rect x="1300" y="800" width="51" height="51" fill="#a3a9b3"/><rect x="1350" y="800" width="51" height="51" fill="#a2a9b3"/><rect x="1400" y="800" width="51" height="51" fill="#a2a8b2"/><rect x="1450" y="800" width="51" height="51" fill="#a1a8b2"/><rect x="1500" y="800" width="51" height="51" fill="#a0a7b0"/><rect x="1550" y="800" width="51" height="51" fill="#a0a7ae"/><rect x="1600" y="800" width="51" height="51" fill="#a0a6ac"/><rect x="1650" y="800" width="51" height="51" fill="#a0a5a9"/><rect x="1700" y="800" width="51" height="51" fill="#a0a4a6"/><rect x="1750" y="800" width="51" height="51" fill="#a0a2a3"/><rect x="1800" y="800" width="51" height="51" fill="#9fa0a0"/><rect x="1850" y="800" width="51" height="51" fill="#9e9f9d"/><rect x="1900" y="800" width="51" height="51" fill="#9d9d9b"/><rect x="1950" y="800" width="51" height="51" fill="#9d9c99"/><rect x="2000" y="800" width="51" height="51" fill="#9c9b98"/><rect x="2050" y="800" width="51" height="51" fill="#9c9b98"/><rect x="2100" y="800" width="51" height="51" fill="#9c9b98"/><rect x="0" y="850" width="51" height="51" fill="#8d8d86"/><rect x="50" y="850" width="51" height="51" fill="#8d8d86"/><rect x="100" y="850" width="51" height="51" fill="#8d8d86"/><rect x="150" y="850" width="51" height="51" fill="#8e8f87"/><rect x="200" y="850" width="51" height="51" fill="#90918b"/><rect x="250" y="850" width="51" height="51" fill="#92938f"/><rect x="300" y="850" width="51" height="51" fill="#949693"/><rect x="350" y="850" width="51" height="51" fill="#969897"/><rect x="400" y="850" width="51" height="51" fill="#989a9b"/><rect x="450" y="850" width="51" height="51" fill="#999c9e"/><rect x="500" y="850" width="51" height="51" fill="#999ea2"/><rect x="550" y="850" width="51" height="51" fill="#999fa5"/><rect x="600" y="850" width="51" height="51" fill="#99a1a8"/><rect x="650" y="850" width="51" height="51" fill="#99a2ab"/><rect x="700" y="850" width="51" height="51" fill="#98a3ae"/><rect x="750" y="850" width="51" height="51" fill="#99a4b0"/><rect x="800" y="850" width="51" height="51" fill="#9aa5b2"/><rect x="850" y="850" width="51" height="51" fill="#9ba6b3"/><rect x="900" y="850" width="51" height="51" fill="#9ca7b4"/><rect x="950" y="850" width="51" height="51" fill="#9da7b4"/><rect x="1000" y="850" width="51" height="51" fill="#9ea8b5"/><rect x="1050" y="850" width="51" height="51" fill="#a0a9b5"/><rect x="1100" y="850" width="51" height="51" fill="#a1a9b5"/><rect x="1150" y="850" width="51" height="51" fill="#a2aab5"/><rect x="1200" y="850" width="51" height="51" fill="#a2aab4"/><rect x="1250" y="850" width="51" height="51" fill="#a2aab5"/><rect x="1300" y="850" width="51" height="51" fill="#a1a9b5"/><rect x="1350" y="850" width="51" height="51" fill="#a1a9b5"/><rect x="1400" y="850" width="51" height="51" fill="#a0a9b4"/><rect x="1450" y="850" width="51" height="51" fill="#9fa8b4"/><rect x="1500" y="850" width="51" height="51" fill="#9fa8b2"/><rect x="1550" y="850" width="51" height="51" fill="#9fa7b0"/><rect x="1600" y="850" width="51" height="51" fill="#9fa6ae"/><rect x="1650" y="850" width="51" height="51" fill="#9fa5ab"/><rect x="1700" y="850" width="51" height="51" fill="#9fa4a8"/><rect x="1750" y="850" width="51" height="51" fill="#9fa2a4"/><rect x="1800" y="850" width="51" height="51" fill="#9ea1a1"/><rect x="1850" y="850" width="51" height="51" fill="#9d9f9f"/><rect x="1900" y="850" width="51" height="51" fill="#9d9e9d"/><rect x="1950" y="850" width="51" height="51" fill="#9c9c9b"/><rect x="2000" y="850" width="51" height="51" fill="#9c9c9a"/><rect x="2050" y="850" width="51" height="51" fill="#9c9c9a"/><rect x="2100" y="850" width="51" height="51" fill="#9c9c9a"/><rect x="0" y="900" width="51" height="51" fill="#8d8d87"/><rect x="50" y="900" width="51" height="51" fill="#8d8d87"/><rect x="100" y="900" width="51" height="51" fill="#8d8d87"/><rect x="150" y="900" width="51" height="51" fill="#8e8e89"/><rect x="200" y="900" width="51" height="51" fill="#90918d"/><rect x="250" y="900" width="51" height="51" fill="#929390"/><rect x="300" y="900" width="51" height="51" fill="#949694"/><rect x="350" y="900" width="51" height="51" fill="#969898"/><rect x="400" y="900" width="51" height="51" fill="#979a9b"/><rect x="450" y="900" width="51" height="51" fill="#989c9f"/><rect x="500" y="900" width="51" height="51" fill="#989ea3"/><rect x="550" y="900" width="51" height="51" fill="#989fa6"/><rect x="600" y="900" width="51" height="51" fill="#97a1a9"/><rect x="650" y="900" width="51" height="51" fill="#97a2ad"/><rect x="700" y="900" width="51" height="51" fill="#96a3af"/><rect x="750" y="900" width="51" height="51" fill="#97a4b1"/><rect x="800" y="900" width="51" height="51" fill="#97a5b3"/><rect x="850" y="900" width="51" height="51" fill="#99a6b4"/><rect x="900" y="900" width="51" height="51" fill="#9aa7b4"/><rect x="950" y="900" width="51" height="51" fill="#9ba7b5"/><rect x="1000" y="900" width="51" height="51" fill="#9ca8b5"/><rect x="1050" y="900" width="51" height="51" fill="#9da9b5"/><rect x="1100" y="900" width="51" height="51" fill="#9faab5"/><rect x="1150" y="900" width="51" height="51" fill="#a0aab5"/><rect x="1200" y="900" width="51" height="51" fill="#9faab5"/><rect x="1250" y="900" width="51" height="51" fill="#9faab5"/><rect x="1300" y="900" width="51" height="51" fill="#9faab6"/><rect x="1350" y="900" width="51" height="51" fill="#9fa9b6"/><rect x="1400" y="900" width="51" height="51" fill="#9ea9b6"/><rect x="1450" y="900" width="51" height="51" fill="#9da9b5"/><rect x="1500" y="900" width="51" height="51" fill="#9da9b4"/><rect x="1550" y="900" width="51" height="51" fill="#9da8b3"/><rect x="1600" y="900" width="51" height="51" fill="#9ea7b0"/><rect x="1650" y="900" width="51" height="51" fill="#9ea5ad"/><rect x="1700" y="900" width="51" height="51" fill="#9ea4aa"/><rect x="1750" y="900" width="51" height="51" fill="#9ea2a7"/><rect x="1800" y="900" width="51" height="51" fill="#9ea1a4"/><rect x="1850" y="900" width="51" height="51" fill="#9d9fa1"/><rect x="1900" y="900" width="51" height="51" fill="#9d9e9f"/><rect x="1950" y="900" width="51" height="51" fill="#9c9d9d"/><rect x="2000" y="900" width="51" height="51" fill="#9c9c9c"/><rect x="2050" y="900" width="51" height="51" fill="#9c9c9c"/><rect x="2100" y="900" width="51" height="51" fill="#9c9c9c"/><rect x="0" y="950" width="51" height="51" fill="#8d8d88"/><rect x="50" y="950" width="51" height="51" fill="#8d8d88"/><rect x="100" y="950" width="51" height="51" fill="#8d8d88"/><rect x="150" y="950" width="51" height="51" fill="#8e8e8a"/><rect x="200" y="950" width="51" height="51" fill="#90918e"/><rect x="250" y="950" width="51" height="51" fill="#929392"/><rect x="300" y="950" width="51" height="51" fill="#949595"/><rect x="350" y="950" width="51" height="51" fill="#959899"/><rect x="400" y="950" width="51" height="51" fill="#979a9c"/><rect x="450" y="950" width="51" height="51" fill="#979ca0"/><rect x="500" y="950" width="51" height="51" fill="#979ea3"/><rect x="550" y="950" width="51" height="51" fill="#969fa7"/><rect x="600" y="950" width="51" height="51" fill="#96a1aa"/><rect x="650" y="950" width="51" height="51" fill="#95a2ae"/><rect x="700" y="950" width="51" height="51" fill="#94a3b0"/><rect x="750" y="950" width="51" height="51" fill="#95a4b2"/><rect x="800" y="950" width="51" height="51" fill="#95a5b3"/><rect x="850" y="950" width="51" height="51" fill="#97a6b4"/><rect x="900" y="950" width="51" height="51" fill="#98a7b5"/><rect x="950" y="950" width="51" height="51" fill="#99a7b5"/><rect x="1000" y="950" width="51" height="51" fill="#9aa8b6"/><rect x="1050" y="950" width="51" height="51" fill="#9ba9b6"/><rect x="1100" y="950" width="51" height="51" fill="#9ba9b6"/><rect x="1150" y="950" width="51" height="51" fill="#9caab6"/><rect x="1200" y="950" width="51" height="51" fill="#9caab6"/><rect x="1250" y="950" width="51" height="51" fill="#9caab6"/><rect x="1300" y="950" width="51" height="51" fill="#9ca9b6"/><rect x="1350" y="950" width="51" height="51" fill="#9caab7"/><rect x="1400" y="950" width="51" height="51" fill="#9caab7"/><rect x="1450" y="950" width="51" height="51" fill="#9caab7"/><rect x="1500" y="950" width="51" height="51" fill="#9ba9b6"/><rect x="1550" y="950" width="51" height="51" fill="#9ca9b4"/><rect x="1600" y="950" width="51" height="51" fill="#9ca7b2"/><rect x="1650" y="950" width="51" height="51" fill="#9da6af"/><rect x="1700" y="950" width="51" height="51" fill="#9ea4ac"/><rect x="1750" y="950" width="51" height="51" fill="#9ea3a9"/><rect x="1800" y="950" width="51" height="51" fill="#9da1a6"/><rect x="1850" y="950" width="51" height="51" fill="#9da0a3"/><rect x="1900" y="950" width="51" height="51" fill="#9c9ea1"/><rect x="1950" y="950" width="51" height="51" fill="#9c9d9f"/><rect x="2000" y="950" width="51" height="51" fill="#9c9d9e"/><rect x="2050" y="950" width="51" height="51" fill="#9c9d9e"/><rect x="2100" y="950" width="51" height="51" fill="#9c9d9e"/><rect x="0" y="1000" width="51" height="51" fill="#8d8d8a"/><rect x="50" y="1000" width="51" height="51" fill="#8d8d8a"/><rect x="100" y="1000" width="51" height="51" fill="#8d8d8a"/><rect x="150" y="1000" width="51" height="51" fill="#8e8e8c"/><rect x="200" y="1000" width="51" height="51" fill="#909090"/><rect x="250" y="1000" width="51" height="51" fill="#919393"/><rect x="300" y="1000" width="51" height="51" fill="#939596"/><rect x="350" y="1000" width="51" height="51" fill="#949799"/><rect x="400" y="1000" width="51" height="51" fill="#96999d"/><rect x="450" y="1000" width="51" height="51" fill="#969ba0"/><rect x="500" y="1000" width="51" height="51" fill="#969da4"/><rect x="550" y="1000" width="51" height="51" fill="#959ea8"/><rect x="600" y="1000" width="51" height="51" fill="#94a0ab"/><rect x="650" y="1000" width="51" height="51" fill="#94a1ae"/><rect x="700" y="1000" width="51" height="51" fill="#93a3b0"/><rect x="750" y="1000" width="51" height="51" fill="#93a4b2"/><rect x="800" y="1000" width="51" height="51" fill="#94a5b3"/><rect x="850" y="1000" width="51" height="51" fill="#95a5b4"/><rect x="900" y="1000" width="51" height="51" fill="#96a6b5"/><rect x="950" y="1000" width="51" height="51" fill="#97a7b5"/><rect x="1000" y="1000" width="51" height="51" fill="#97a8b6"/><rect x="1050" y="1000" width="51" height="51" fill="#98a8b6"/><rect x="1100" y="1000" width="51" height="51" fill="#98a9b6"/><rect x="1150" y="1000" width="51" height="51" fill="#98a9b6"/><rect x="1200" y="1000" width="51" height="51" fill="#99a9b6"/><rect x="1250" y="1000" width="51" height="51" fill="#99a9b6"/><rect x="1300" y="1000" width="51" height="51" fill="#9aa9b6"/><rect x="1350" y="1000" width="51" height="51" fill="#9aa9b7"/><rect x="1400" y="1000" width="51" height="51" fill="#9aaab7"/><rect x="1450" y="1000" width="51" height="51" fill="#9aaab7"/><rect x="1500" y="1000" width="51" height="51" fill="#9aaab7"/><rect x="1550" y="1000" width="51" height="51" fill="#9ba9b5"/><rect x="1600" y="1000" width="51" height="51" fill="#9ba8b3"/><rect x="1650" y="1000" width="51" height="51" fill="#9ca6b0"/><rect x="1700" y="1000" width="51" height="51" fill="#9da5ad"/><rect x="1750" y="1000" width="51" height="51" fill="#9da3ab"/><rect x="1800" y="1000" width="51" height="51" fill="#9da2a8"/><rect x="1850" y="1000" width="51" height="51" fill="#9ca0a5"/><rect x="1900" y="1000" width="51" height="51" fill="#9c9fa3"/><rect x="1950" y="1000" width="51" height="51" fill="#9b9ea1"/><rect x="2000" y="1000" width="51" height="51" fill="#9b9da0"/><rect x="2050" y="1000" width="51" height="51" fill="#9b9da0"/><rect x="2100" y="1000" width="51" height="51" fill="#9b9da0"/><rect x="0" y="1050" width="51" height="51" fill="#8d8c8b"/><rect x="50" y="1050" width="51" height="51" fill="#8d8c8b"/><rect x="100" y="1050" width="51" height="51" fill="#8d8c8b"/><rect x="150" y="1050" width="51" height="51" fill="#8e8e8d"/><rect x="200" y="1050" width="51" height="51" fill="#8f9090"/><rect x="250" y="1050" width="51" height="51" fill="#909293"/><rect x="300" y="1050" width="51" height="51" fill="#929496"/><rect x="350" y="1050" width="51" height="51" fill="#93969a"/><rect x="400" y="1050" width="51" height="51" fill="#94989d"/><rect x="450" y="1050" width="51" height="51" fill="#949aa1"/><rect x="500" y="1050" width="51" height="51" fill="#949ca5"/><rect x="550" y="1050" width="51" height="51" fill="#939ea8"/><rect x="600" y="1050" width="51" height="51" fill="#939fab"/><rect x="650" y="1050" width="51" height="51" fill="#92a1ae"/><rect x="700" y="1050" width="51" height="51" fill="#92a2b0"/><rect x="750" y="1050" width="51" height="51" fill="#92a3b2"/><rect x="800" y="1050" width="51" height="51" fill="#93a4b3"/><rect x="850" y="1050" width="51" height="51" fill="#94a5b4"/><rect x="900" y="1050" width="51" height="51" fill="#95a6b5"/><rect x="950" y="1050" width="51" height="51" fill="#95a6b5"/><rect x="1000" y="1050" width="51" height="51" fill="#96a7b6"/><rect x="1050" y="1050" width="51" height="51" fill="#96a8b6"/><rect x="1100" y="1050" width="51" height="51" fill="#96a8b6"/><rect x="1150" y="1050" width="51" height="51" fill="#96a8b6"/><rect x="1200" y="1050" width="51" height="51" fill="#96a8b6"/><rect x="1250" y="1050" width="51" height="51" fill="#97a8b6"/><rect x="1300" y="1050" width="51" height="51" fill="#97a9b6"/><rect x="1350" y="1050" width="51" height="51" fill="#98a9b7"/><rect x="1400" y="1050" width="51" height="51" fill="#99a9b7"/><rect x="1450" y="1050" width="51" height="51" fill="#99aab7"/><rect x="1500" y="1050" width="51" height="51" fill="#9aaab7"/><rect x="1550" y="1050" width="51" height="51" fill="#9aa9b5"/><rect x="1600" y="1050" width="51" height="51" fill="#9ba8b3"/><rect x="1650" y="1050" width="51" height="51" fill="#9ba6b0"/><rect x="1700" y="1050" width="51" height="51" fill="#9ca5ae"/><rect x="1750" y="1050" width="51" height="51" fill="#9ca3ac"/><rect x="1800" y="1050" width="51" height="51" fill="#9ca2a9"/><rect x="1850" y="1050" width="51" height="51" fill="#9ca1a7"/><rect x="1900" y="1050" width="51" height="51" fill="#9b9fa5"/><rect x="1950" y="1050" width="51" height="51" fill="#9b9ea2"/><rect x="2000" y="1050" width="51" height="51" fill="#9b9ea1"/><rect x="2050" y="1050" width="51" height="51" fill="#9b9ea1"/><rect x="2100" y="1050" width="51" height="51" fill="#9b9ea1"/><rect x="0" y="1100" width="51" height="51" fill="#8c8c8b"/><rect x="50" y="1100" width="51" height="51" fill="#8c8c8b"/><rect x="100" y="1100" width="51" height="51" fill="#8c8c8b"/><rect x="150" y="1100" width="51" height="51" fill="#8d8d8d"/><rect x="200" y="1100" width="51" height="51" fill="#8e8f90"/><rect x="250" y="1100" width="51" height="51" fill="#8f9193"/><rect x="300" y="1100" width="51" height="51" fill="#909396"/><rect x="350" y="1100" width="51" height="51" fill="#919599"/><rect x="400" y="1100" width="51" height="51" fill="#91979d"/><rect x="450" y="1100" width="51" height="51" fill="#9299a1"/><rect x="500" y="1100" width="51" height="51" fill="#929ba5"/><rect x="550" y="1100" width="51" height="51" fill="#929da8"/><rect x="600" y="1100" width="51" height="51" fill="#919eab"/><rect x="650" y="1100" width="51" height="51" fill="#91a0ad"/><rect x="700" y="1100" width="51" height="51" fill="#91a1af"/><rect x="750" y="1100" width="51" height="51" fill="#91a2b1"/><rect x="800" y="1100" width="51" height="51" fill="#92a3b2"/><rect x="850" y="1100" width="51" height="51" fill="#93a4b3"/><rect x="900" y="1100" width="51" height="51" fill="#93a5b4"/><rect x="950" y="1100" width="51" height="51" fill="#94a6b5"/><rect x="1000" y="1100" width="51" height="51" fill="#94a6b6"/><rect x="1050" y="1100" width="51" height="51" fill="#95a7b6"/><rect x="1100" y="1100" width="51" height="51" fill="#95a7b6"/><rect x="1150" y="1100" width="51" height="51" fill="#95a7b6"/><rect x="1200" y="1100" width="51" height="51" fill="#95a8b6"/><rect x="1250" y="1100" width="51" height="51" fill="#95a8b6"/><rect x="1300" y="1100" width="51" height="51" fill="#96a8b6"/><rect x="1350" y="1100" width="51" height="51" fill="#97a8b6"/><rect x="1400" y="1100" width="51" height="51" fill="#98a9b7"/><rect x="1450" y="1100" width="51" height="51" fill="#99a9b6"/><rect x="1500" y="1100" width="51" height="51" fill="#99a9b6"/><rect x="1550" y="1100" width="51" height="51" fill="#9aa9b4"/><rect x="1600" y="1100" width="51" height="51" fill="#9ba8b2"/><rect x="1650" y="1100" width="51" height="51" fill="#9ba6b0"/><rect x="1700" y="1100" width="51" height="51" fill="#9ba5af"/><rect x="1750" y="1100" width="51" height="51" fill="#9ca4ad"/><rect x="1800" y="1100" width="51" height="51" fill="#9ca2aa"/><rect x="1850" y="1100" width="51" height="51" fill="#9ba1a8"/><rect x="1900" y="1100" width="51" height="51" fill="#9ba0a6"/><rect x="1950" y="1100" width="51" height="51" fill="#9b9fa4"/><rect x="2000" y="1100" width="51" height="51" fill="#9b9ea3"/><rect x="2050" y="1100" width="51" height="51" fill="#9b9ea3"/><rect x="2100" y="1100" width="51" height="51" fill="#9b9ea3"/><rect x="0" y="1150" width="51" height="51" fill="#8b8b8b"/><rect x="50" y="1150" width="51" height="51" fill="#8b8b8b"/><rect x="100" y="1150" width="51" height="51" fill="#8b8b8b"/><rect x="150" y="1150" width="51" height="51" fill="#8c8c8c"/><rect x="200" y="1150" width="51" height="51" fill="#8d8e8f"/><rect x="250" y="1150" width="51" height="51" fill="#8d9092"/><rect x="300" y="1150" width="51" height="51" fill="#8e9295"/><rect x="350" y="1150" width="51" height="51" fill="#8f9499"/><rect x="400" y="1150" width="51" height="51" fill="#8f969d"/><rect x="450" y="1150" width="51" height="51" fill="#9098a1"/><rect x="500" y="1150" width="51" height="51" fill="#909aa4"/><rect x="550" y="1150" width="51" height="51" fill="#909ba7"/><rect x="600" y="1150" width="51" height="51" fill="#909daa"/><rect x="650" y="1150" width="51" height="51" fill="#909fad"/><rect x="700" y="1150" width="51" height="51" fill="#90a0af"/><rect x="750" y="1150" width="51" height="51" fill="#91a1b0"/><rect x="800" y="1150" width="51" height="51" fill="#91a2b2"/><rect x="850" y="1150" width="51" height="51" fill="#92a3b3"/><rect x="900" y="1150" width="51" height="51" fill="#92a4b4"/><rect x="950" y="1150" width="51" height="51" fill="#93a5b5"/><rect x="1000" y="1150" width="51" height="51" fill="#93a5b5"/><rect x="1050" y="1150" width="51" height="51" fill="#94a6b6"/><rect x="1100" y="1150" width="51" height="51" fill="#94a6b6"/><rect x="1150" y="1150" width="51" height="51" fill="#94a7b6"/><rect x="1200" y="1150" width="51" height="51" fill="#94a7b6"/><rect x="1250" y="1150" width="51" height="51" fill="#94a7b6"/><rect x="1300" y="1150" width="51" height="51" fill="#95a7b6"/><rect x="1350" y="1150" width="51" height="51" fill="#96a8b6"/><rect x="1400" y="1150" width="51" height="51" fill="#97a8b6"/><rect x="1450" y="1150" width="51" height="51" fill="#98a8b6"/><rect x="1500" y="1150" width="51" height="51" fill="#99a8b5"/><rect x="1550" y="1150" width="51" height="51" fill="#9aa8b4"/><rect x="1600" y="1150" width="51" height="51" fill="#9aa7b2"/><rect x="1650" y="1150" width="51" height="51" fill="#9ba6b1"/><rect x="1700" y="1150" width="51" height="51" fill="#9ba5af"/><rect x="1750" y="1150" width="51" height="51" fill="#9ba4ad"/><rect x="1800" y="1150" width="51" height="51" fill="#9ba2ab"/><rect x="1850" y="1150" width="51" height="51" fill="#9ba1a9"/><rect x="1900" y="1150" width="51" height="51" fill="#9ba0a7"/><rect x="1950" y="1150" width="51" height="51" fill="#9a9fa5"/><rect x="2000" y="1150" width="51" height="51" fill="#9a9ea4"/><rect x="2050" y="1150" width="51" height="51" fill="#9a9ea4"/><rect x="2100" y="1150" width="51" height="51" fill="#9a9ea4"/><rect x="0" y="1200" width="51" height="51" fill="#8b8b8b"/><rect x="50" y="1200" width="51" height="51" fill="#8b8b8b"/><rect x="100" y="1200" width="51" height="51" fill="#8b8b8b"/><rect x="150" y="1200" width="51" height="51" fill="#8c8c8c"/><rect x="200" y="1200" width="51" height="51" fill="#8c8e8f"/><rect x="250" y="1200" width="51" height="51" fill="#8d8f92"/><rect x="300" y="1200" width="51" height="51" fill="#8d9195"/><rect x="350" y="1200" width="51" height="51" fill="#8e9399"/><rect x="400" y="1200" width="51" height="51" fill="#8f959d"/><rect x="450" y="1200" width="51" height="51" fill="#8f97a1"/><rect x="500" y="1200" width="51" height="51" fill="#9099a4"/><rect x="550" y="1200" width="51" height="51" fill="#909ba7"/><rect x="600" y="1200" width="51" height="51" fill="#909daa"/><rect x="650" y="1200" width="51" height="51" fill="#909eac"/><rect x="700" y="1200" width="51" height="51" fill="#90a0af"/><rect x="750" y="1200" width="51" height="51" fill="#90a1b0"/><rect x="800" y="1200" width="51" height="51" fill="#91a2b2"/><rect x="850" y="1200" width="51" height="51" fill="#91a3b3"/><rect x="900" y="1200" width="51" height="51" fill="#92a4b4"/><rect x="950" y="1200" width="51" height="51" fill="#93a4b5"/><rect x="1000" y="1200" width="51" height="51" fill="#93a5b5"/><rect x="1050" y="1200" width="51" height="51" fill="#94a6b6"/><rect x="1100" y="1200" width="51" height="51" fill="#94a6b6"/><rect x="1150" y="1200" width="51" height="51" fill="#94a6b6"/><rect x="1200" y="1200" width="51" height="51" fill="#94a7b6"/><rect x="1250" y="1200" width="51" height="51" fill="#94a7b6"/><rect x="1300" y="1200" width="51" height="51" fill="#95a7b6"/><rect x="1350" y="1200" width="51" height="51" fill="#96a8b6"/><rect x="1400" y="1200" width="51" height="51" fill="#97a8b6"/><rect x="1450" y="1200" width="51" height="51" fill="#98a8b5"/><rect x="1500" y="1200" width="51" height="51" fill="#99a8b5"/><rect x="1550" y="1200" width="51" height="51" fill="#9aa8b3"/><rect x="1600" y="1200" width="51" height="51" fill="#9aa7b2"/><rect x="1650" y="1200" width="51" height="51" fill="#9ba6b1"/><rect x="1700" y="1200" width="51" height="51" fill="#9ba5af"/><rect x="1750" y="1200" width="51" height="51" fill="#9ba4ad"/><rect x="1800" y="1200" width="51" height="51" fill="#9ba2ab"/><rect x="1850" y="1200" width="51" height="51" fill="#9ba1a9"/><rect x="1900" y="1200" width="51" height="51" fill="#9ba0a8"/><rect x="1950" y="1200" width="51" height="51" fill="#9a9fa6"/><rect x="2000" y="1200" width="51" height="51" fill="#9a9fa5"/><rect x="2050" y="1200" width="51" height="51" fill="#9a9fa5"/><rect x="2100" y="1200" width="51" height="51" fill="#9a9fa5"/><rect x="0" y="1250" width="51" height="51" fill="#8b8b8b"/><rect x="50" y="1250" width="51" height="51" fill="#8b8b8b"/><rect x="100" y="1250" width="51" height="51" fill="#8b8b8b"/><rect x="150" y="1250" width="51" height="51" fill="#8c8c8c"/><rect x="200" y="1250" width="51" height="51" fill="#8c8e8f"/><rect x="250" y="1250" width="51" height="51" fill="#8d8f92"/><rect x="300" y="1250" width="51" height="51" fill="#8d9195"/><rect x="350" y="1250" width="51" height="51" fill="#8e9399"/><rect x="400" y="1250" width="51" height="51" fill="#8f959d"/><rect x="450" y="1250" width="51" height="51" fill="#8f97a1"/><rect x="500" y="1250" width="51" height="51" fill="#9099a4"/><rect x="550" y="1250" width="51" height="51" fill="#909ba7"/><rect x="600" y="1250" width="51" height="51" fill="#909daa"/><rect x="650" y="1250" width="51" height="51" fill="#909eac"/><rect x="700" y="1250" width="51" height="51" fill="#90a0af"/><rect x="750" y="1250" width="51" height="51" fill="#90a1b0"/><rect x="800" y="1250" width="51" height="51" fill="#91a2b2"/><rect x="850" y="1250" width="51" height="51" fill="#91a3b3"/><rect x="900" y="1250" width="51" height="51" fill="#92a4b4"/><rect x="950" y="1250" width="51" height="51" fill="#93a4b5"/><rect x="1000" y="1250" width="51" height="51" fill="#93a5b5"/><rect x="1050" y="1250" width="51" height="51" fill="#94a6b6"/><rect x="1100" y="1250" width="51" height="51" fill="#94a6b6"/><rect x="1150" y="1250" width="51" height="51" fill="#94a6b6"/><rect x="1200" y="1250" width="51" height="51" fill="#94a7b6"/><rect x="1250" y="1250" width="51" height="51" fill="#94a7b6"/><rect x="1300" y="1250" width="51" height="51" fill="#95a7b6"/><rect x="1350" y="1250" width="51" height="51" fill="#96a8b6"/><rect x="1400" y="1250" width="51" height="51" fill="#97a8b6"/><rect x="1450" y="1250" width="51" height="51" fill="#98a8b5"/><rect x="1500" y="1250" width="51" height="51" fill="#99a8b5"/><rect x="1550" y="1250" width="51" height="51" fill="#9aa8b3"/><rect x="1600" y="1250" width="51" height="51" fill="#9aa7b2"/><rect x="1650" y="1250" width="51" height="51" fill="#9ba6b1"/><rect x="1700" y="1250" width="51" height="51" fill="#9ba5af"/><rect x="1750" y="1250" width="51" height="51" fill="#9ba4ad"/><rect x="1800" y="1250" width="51" height="51" fill="#9ba2ab"/><rect x="1850" y="1250" width="51" height="51" fill="#9ba1a9"/><rect x="1900" y="1250" width="51" height="51" fill="#9ba0a8"/><rect x="1950" y="1250" width="51" height="51" fill="#9a9fa6"/><rect x="2000" y="1250" width="51" height="51" fill="#9a9fa5"/><rect x="2050" y="1250" width="51" height="51" fill="#9a9fa5"/><rect x="2100" y="1250" width="51" height="51" fill="#9a9fa5"/><rect x="0" y="1300" width="51" height="51" fill="#8b8b8b"/><rect x="50" y="1300" width="51" height="51" fill="#8b8b8b"/><rect x="100" y="1300" width="51" height="51" fill="#8b8b8b"/><rect x="150" y="1300" width="51" height="51" fill="#8c8c8c"/><rect x="200" y="1300" width="51" height="51" fill="#8c8e8f"/><rect x="250" y="1300" width="51" height="51" fill="#8d8f92"/><rect x="300" y="1300" width="51" height="51" fill="#8d9195"/><rect x="350" y="1300" width="51" height="51" fill="#8e9399"/><rect x="400" y="1300" width="51" height="51" fill="#8f959d"/><rect x="450" y="1300" width="51" height="51" fill="#8f97a1"/><rect x="500" y="1300" width="51" height="51" fill="#9099a4"/><rect x="550" y="1300" width="51" height="51" fill="#909ba7"/><rect x="600" y="1300" width="51" height="51" fill="#909daa"/><rect x="650" y="1300" width="51" height="51" fill="#909eac"/><rect x="700" y="1300" width="51" height="51" fill="#90a0af"/><rect x="750" y="1300" width="51" height="51" fill="#90a1b0"/><rect x="800" y="1300" width="51" height="51" fill="#91a2b2"/><rect x="850" y="1300" width="51" height="51" fill="#91a3b3"/><rect x="900" y="1300" width="51" height="51" fill="#92a4b4"/><rect x="950" y="1300" width="51" height="51" fill="#93a4b5"/><rect x="1000" y="1300" width="51" height="51" fill="#93a5b5"/><rect x="1050" y="1300" width="51" height="51" fill="#94a6b6"/><rect x="1100" y="1300" width="51" height="51" fill="#94a6b6"/><rect x="1150" y="1300" width="51" height="51" fill="#94a6b6"/><rect x="1200" y="1300" width="51" height="51" fill="#94a7b6"/><rect x="1250" y="1300" width="51" height="51" fill="#94a7b6"/><rect x="1300" y="1300" width="51" height="51" fill="#95a7b6"/><rect x="1350" y="1300" width="51" height="51" fill="#96a8b6"/><rect x="1400" y="1300" width="51" height="51" fill="#97a8b6"/><rect x="1450" y="1300" width="51" height="51" fill="#98a8b5"/><rect x="1500" y="1300" width="51" height="51" fill="#99a8b5"/><rect x="1550" y="1300" width="51" height="51" fill="#9aa8b3"/><rect x="1600" y="1300" width="51" height="51" fill="#9aa7b2"/><rect x="1650" y="1300" width="51" height="51" fill="#9ba6b1"/><rect x="1700" y="1300" width="51" height="51" fill="#9ba5af"/><rect x="1750" y="1300" width="51" height="51" fill="#9ba4ad"/><rect x="1800" y="1300" width="51" height="51" fill="#9ba2ab"/><rect x="1850" y="1300" width="51" height="51" fill="#9ba1a9"/><rect x="1900" y="1300" width="51" height="51" fill="#9ba0a8"/><rect x="1950" y="1300" width="51" height="51" fill="#9a9fa6"/><rect x="2000" y="1300" width="51" height="51" fill="#9a9fa5"/><rect x="2050" y="1300" width="51" height="51" fill="#9a9fa5"/><rect x="2100" y="1300" width="51" height="51" fill="#9a9fa5"/></g></svg>
<div class="abs" style="left:0;top:0;width:1850px;height:1040px;clip-path:polygon(1698px 0,1850px 0,1850px 1040px,1719.7px 1040px)">
<svg style="position:absolute;left:1560px;top:-120px" width="410" height="1280"><defs><filter id="bs" x="0" y="0" width="410" height="1280" filterUnits="userSpaceOnUse"><feGaussianBlur stdDeviation="20"/></filter></defs><g filter="url(#bs)"><rect x="0" y="0" width="41" height="41" fill="#a1a1a1"/><rect x="40" y="0" width="41" height="41" fill="#a1a1a1"/><rect x="80" y="0" width="41" height="41" fill="#a1a1a1"/><rect x="120" y="0" width="41" height="41" fill="#a1a1a1"/><rect x="160" y="0" width="41" height="41" fill="#a1a09f"/><rect x="200" y="0" width="41" height="41" fill="#a19f9e"/><rect x="240" y="0" width="41" height="41" fill="#a19e9d"/><rect x="280" y="0" width="41" height="41" fill="#a19d9c"/><rect x="320" y="0" width="41" height="41" fill="#a19d9c"/><rect x="360" y="0" width="41" height="41" fill="#a19d9c"/><rect x="400" y="0" width="41" height="41" fill="#a19d9c"/><rect x="0" y="40" width="41" height="41" fill="#a1a1a1"/><rect x="40" y="40" width="41" height="41" fill="#a1a1a1"/><rect x="80" y="40" width="41" height="41" fill="#a1a1a1"/><rect x="120" y="40" width="41" height="41" fill="#a1a1a1"/><rect x="160" y="40" width="41" height="41" fill="#a1a09f"/><rect x="200" y="40" width="41" height="41" fill="#a19f9e"/><rect x="240" y="40" width="41" height="41" fill="#a19e9d"/><rect x="280" y="40" width="41" height="41" fill="#a19d9c"/><rect x="320" y="40" width="41" height="41" fill="#a19d9c"/><rect x="360" y="40" width="41" height="41" fill="#a19d9c"/><rect x="400" y="40" width="41" height="41" fill="#a19d9c"/><rect x="0" y="80" width="41" height="41" fill="#a1a1a1"/><rect x="40" y="80" width="41" height="41" fill="#a1a1a1"/><rect x="80" y="80" width="41" height="41" fill="#a1a1a1"/><rect x="120" y="80" width="41" height="41" fill="#a1a1a1"/><rect x="160" y="80" width="41" height="41" fill="#a1a09f"/><rect x="200" y="80" width="41" height="41" fill="#a19f9e"/><rect x="240" y="80" width="41" height="41" fill="#a19e9d"/><rect x="280" y="80" width="41" height="41" fill="#a19d9c"/><rect x="320" y="80" width="41" height="41" fill="#a19d9c"/><rect x="360" y="80" width="41" height="41" fill="#a19d9c"/><rect x="400" y="80" width="41" height="41" fill="#a19d9c"/><rect x="0" y="120" width="41" height="41" fill="#a1a2a2"/><rect x="40" y="120" width="41" height="41" fill="#a1a2a2"/><rect x="80" y="120" width="41" height="41" fill="#a1a2a2"/><rect x="120" y="120" width="41" height="41" fill="#a1a1a1"/><rect x="160" y="120" width="41" height="41" fill="#a1a0a0"/><rect x="200" y="120" width="41" height="41" fill="#a09f9e"/><rect x="240" y="120" width="41" height="41" fill="#a09e9d"/><rect x="280" y="120" width="41" height="41" fill="#a09d9c"/><rect x="320" y="120" width="41" height="41" fill="#a09d9c"/><rect x="360" y="120" width="41" height="41" fill="#a09d9c"/><rect x="400" y="120" width="41" height="41" fill="#a09d9c"/><rect x="0" y="160" width="41" height="41" fill="#a1a2a2"/><rect x="40" y="160" width="41" height="41" fill="#a1a2a2"/><rect x="80" y="160" width="41" height="41" fill="#a1a2a2"/><rect x="120" y="160" width="41" height="41" fill="#a1a1a2"/><rect x="160" y="160" width="41" height="41" fill="#a0a0a0"/><rect x="200" y="160" width="41" height="41" fill="#a09f9f"/><rect x="240" y="160" width="41" height="41" fill="#a09e9e"/><rect x="280" y="160" width="41" height="41" fill="#a09d9d"/><rect x="320" y="160" width="41" height="41" fill="#a09d9d"/><rect x="360" y="160" width="41" height="41" fill="#a09d9d"/><rect x="400" y="160" width="41" height="41" fill="#a09d9d"/><rect x="0" y="200" width="41" height="41" fill="#a1a3a3"/><rect x="40" y="200" width="41" height="41" fill="#a1a3a3"/><rect x="80" y="200" width="41" height="41" fill="#a1a3a3"/><rect x="120" y="200" width="41" height="41" fill="#a0a2a2"/><rect x="160" y="200" width="41" height="41" fill="#a0a1a1"/><rect x="200" y="200" width="41" height="41" fill="#a0a09f"/><rect x="240" y="200" width="41" height="41" fill="#a09f9e"/><rect x="280" y="200" width="41" height="41" fill="#a09e9d"/><rect x="320" y="200" width="41" height="41" fill="#a09e9d"/><rect x="360" y="200" width="41" height="41" fill="#a09e9d"/><rect x="400" y="200" width="41" height="41" fill="#a09e9d"/><rect x="0" y="240" width="41" height="41" fill="#a1a3a3"/><rect x="40" y="240" width="41" height="41" fill="#a1a3a3"/><rect x="80" y="240" width="41" height="41" fill="#a1a3a3"/><rect x="120" y="240" width="41" height="41" fill="#a0a3a2"/><rect x="160" y="240" width="41" height="41" fill="#a0a1a1"/><rect x="200" y="240" width="41" height="41" fill="#a0a0a0"/><rect x="240" y="240" width="41" height="41" fill="#a09f9e"/><rect x="280" y="240" width="41" height="41" fill="#a09e9d"/><rect x="320" y="240" width="41" height="41" fill="#a09e9d"/><rect x="360" y="240" width="41" height="41" fill="#a09e9d"/><rect x="400" y="240" width="41" height="41" fill="#a09e9d"/><rect x="0" y="280" width="41" height="41" fill="#a1a4a3"/><rect x="40" y="280" width="41" height="41" fill="#a1a4a3"/><rect x="80" y="280" width="41" height="41" fill="#a1a4a3"/><rect x="120" y="280" width="41" height="41" fill="#a1a3a3"/><rect x="160" y="280" width="41" height="41" fill="#a1a2a1"/><rect x="200" y="280" width="41" height="41" fill="#a1a1a0"/><rect x="240" y="280" width="41" height="41" fill="#a0a09f"/><rect x="280" y="280" width="41" height="41" fill="#a09f9e"/><rect x="320" y="280" width="41" height="41" fill="#a09f9e"/><rect x="360" y="280" width="41" height="41" fill="#a09f9e"/><rect x="400" y="280" width="41" height="41" fill="#a09f9e"/><rect x="0" y="320" width="41" height="41" fill="#a1a4a4"/><rect x="40" y="320" width="41" height="41" fill="#a1a4a4"/><rect x="80" y="320" width="41" height="41" fill="#a1a4a4"/><rect x="120" y="320" width="41" height="41" fill="#a1a4a3"/><rect x="160" y="320" width="41" height="41" fill="#a1a3a1"/><rect x="200" y="320" width="41" height="41" fill="#a1a1a0"/><rect x="240" y="320" width="41" height="41" fill="#a1a09f"/><rect x="280" y="320" width="41" height="41" fill="#a09f9e"/><rect x="320" y="320" width="41" height="41" fill="#a09f9e"/><rect x="360" y="320" width="41" height="41" fill="#a09f9e"/><rect x="400" y="320" width="41" height="41" fill="#a09f9e"/><rect x="0" y="360" width="41" height="41" fill="#a0a5a4"/><rect x="40" y="360" width="41" height="41" fill="#a0a5a4"/><rect x="80" y="360" width="41" height="41" fill="#a0a5a4"/><rect x="120" y="360" width="41" height="41" fill="#a1a4a3"/><rect x="160" y="360" width="41" height="41" fill="#a1a3a2"/><rect x="200" y="360" width="41" height="41" fill="#a1a2a1"/><rect x="240" y="360" width="41" height="41" fill="#a0a09f"/><rect x="280" y="360" width="41" height="41" fill="#a09f9f"/><rect x="320" y="360" width="41" height="41" fill="#a09f9f"/><rect x="360" y="360" width="41" height="41" fill="#a09f9f"/><rect x="400" y="360" width="41" height="41" fill="#a09f9f"/><rect x="0" y="400" width="41" height="41" fill="#a0a5a5"/><rect x="40" y="400" width="41" height="41" fill="#a0a5a5"/><rect x="80" y="400" width="41" height="41" fill="#a0a5a5"/><rect x="120" y="400" width="41" height="41" fill="#a0a4a4"/><rect x="160" y="400" width="41" height="41" fill="#a0a3a3"/><rect x="200" y="400" width="41" height="41" fill="#a0a2a1"/><rect x="240" y="400" width="41" height="41" fill="#a0a1a0"/><rect x="280" y="400" width="41" height="41" fill="#a0a09f"/><rect x="320" y="400" width="41" height="41" fill="#a0a09f"/><rect x="360" y="400" width="41" height="41" fill="#a0a09f"/><rect x="400" y="400" width="41" height="41" fill="#a0a09f"/><rect x="0" y="440" width="41" height="41" fill="#9fa5a6"/><rect x="40" y="440" width="41" height="41" fill="#9fa5a6"/><rect x="80" y="440" width="41" height="41" fill="#9fa5a6"/><rect x="120" y="440" width="41" height="41" fill="#9fa4a6"/><rect x="160" y="440" width="41" height="41" fill="#9fa3a4"/><rect x="200" y="440" width="41" height="41" fill="#9fa2a3"/><rect x="240" y="440" width="41" height="41" fill="#9fa1a1"/><rect x="280" y="440" width="41" height="41" fill="#9fa0a1"/><rect x="320" y="440" width="41" height="41" fill="#9fa0a1"/><rect x="360" y="440" width="41" height="41" fill="#9fa0a1"/><rect x="400" y="440" width="41" height="41" fill="#9fa0a1"/><rect x="0" y="480" width="41" height="41" fill="#9ea5a8"/><rect x="40" y="480" width="41" height="41" fill="#9ea5a8"/><rect x="80" y="480" width="41" height="41" fill="#9ea5a8"/><rect x="120" y="480" width="41" height="41" fill="#9ea4a7"/><rect x="160" y="480" width="41" height="41" fill="#9fa3a5"/><rect x="200" y="480" width="41" height="41" fill="#9fa2a4"/><rect x="240" y="480" width="41" height="41" fill="#9ea1a3"/><rect x="280" y="480" width="41" height="41" fill="#9ea0a2"/><rect x="320" y="480" width="41" height="41" fill="#9ea0a2"/><rect x="360" y="480" width="41" height="41" fill="#9ea0a2"/><rect x="400" y="480" width="41" height="41" fill="#9ea0a2"/><rect x="0" y="520" width="41" height="41" fill="#9da5a9"/><rect x="40" y="520" width="41" height="41" fill="#9da5a9"/><rect x="80" y="520" width="41" height="41" fill="#9da5a9"/><rect x="120" y="520" width="41" height="41" fill="#9da4a8"/><rect x="160" y="520" width="41" height="41" fill="#9da3a7"/><rect x="200" y="520" width="41" height="41" fill="#9da2a6"/><rect x="240" y="520" width="41" height="41" fill="#9da1a4"/><rect x="280" y="520" width="41" height="41" fill="#9da0a3"/><rect x="320" y="520" width="41" height="41" fill="#9da0a3"/><rect x="360" y="520" width="41" height="41" fill="#9da0a3"/><rect x="400" y="520" width="41" height="41" fill="#9da0a3"/><rect x="0" y="560" width="41" height="41" fill="#9ca5ab"/><rect x="40" y="560" width="41" height="41" fill="#9ca5ab"/><rect x="80" y="560" width="41" height="41" fill="#9ca5ab"/><rect x="120" y="560" width="41" height="41" fill="#9ca4aa"/><rect x="160" y="560" width="41" height="41" fill="#9ca3a9"/><rect x="200" y="560" width="41" height="41" fill="#9ca2a7"/><rect x="240" y="560" width="41" height="41" fill="#9ca1a6"/><rect x="280" y="560" width="41" height="41" fill="#9ca1a5"/><rect x="320" y="560" width="41" height="41" fill="#9ca1a5"/><rect x="360" y="560" width="41" height="41" fill="#9ca1a5"/><rect x="400" y="560" width="41" height="41" fill="#9ca1a5"/><rect x="0" y="600" width="41" height="41" fill="#9ca5ac"/><rect x="40" y="600" width="41" height="41" fill="#9ca5ac"/><rect x="80" y="600" width="41" height="41" fill="#9ca5ac"/><rect x="120" y="600" width="41" height="41" fill="#9ca5ac"/><rect x="160" y="600" width="41" height="41" fill="#9ba4aa"/><rect x="200" y="600" width="41" height="41" fill="#9ba3a9"/><rect x="240" y="600" width="41" height="41" fill="#9ba2a8"/><rect x="280" y="600" width="41" height="41" fill="#9ca1a7"/><rect x="320" y="600" width="41" height="41" fill="#9ca1a7"/><rect x="360" y="600" width="41" height="41" fill="#9ca1a7"/><rect x="400" y="600" width="41" height="41" fill="#9ca1a7"/><rect x="0" y="640" width="41" height="41" fill="#9ba5ae"/><rect x="40" y="640" width="41" height="41" fill="#9ba5ae"/><rect x="80" y="640" width="41" height="41" fill="#9ba5ae"/><rect x="120" y="640" width="41" height="41" fill="#9ba5ad"/><rect x="160" y="640" width="41" height="41" fill="#9ba4ac"/><rect x="200" y="640" width="41" height="41" fill="#9ba3ab"/><rect x="240" y="640" width="41" height="41" fill="#9ba2a9"/><rect x="280" y="640" width="41" height="41" fill="#9ba2a8"/><rect x="320" y="640" width="41" height="41" fill="#9ba2a8"/><rect x="360" y="640" width="41" height="41" fill="#9ba2a8"/><rect x="400" y="640" width="41" height="41" fill="#9ba2a8"/><rect x="0" y="680" width="41" height="41" fill="#9aa6b0"/><rect x="40" y="680" width="41" height="41" fill="#9aa6b0"/><rect x="80" y="680" width="41" height="41" fill="#9aa6b0"/><rect x="120" y="680" width="41" height="41" fill="#9aa5af"/><rect x="160" y="680" width="41" height="41" fill="#9aa5ae"/><rect x="200" y="680" width="41" height="41" fill="#9aa4ac"/><rect x="240" y="680" width="41" height="41" fill="#9aa3ab"/><rect x="280" y="680" width="41" height="41" fill="#9aa2aa"/><rect x="320" y="680" width="41" height="41" fill="#9aa2aa"/><rect x="360" y="680" width="41" height="41" fill="#9aa2aa"/><rect x="400" y="680" width="41" height="41" fill="#9aa2aa"/><rect x="0" y="720" width="41" height="41" fill="#99a6b1"/><rect x="40" y="720" width="41" height="41" fill="#99a6b1"/><rect x="80" y="720" width="41" height="41" fill="#99a6b1"/><rect x="120" y="720" width="41" height="41" fill="#99a6b1"/><rect x="160" y="720" width="41" height="41" fill="#99a5af"/><rect x="200" y="720" width="41" height="41" fill="#99a4ae"/><rect x="240" y="720" width="41" height="41" fill="#99a4ad"/><rect x="280" y="720" width="41" height="41" fill="#99a3ab"/><rect x="320" y="720" width="41" height="41" fill="#99a3ab"/><rect x="360" y="720" width="41" height="41" fill="#99a3ab"/><rect x="400" y="720" width="41" height="41" fill="#99a3ab"/><rect x="0" y="760" width="41" height="41" fill="#99a7b3"/><rect x="40" y="760" width="41" height="41" fill="#99a7b3"/><rect x="80" y="760" width="41" height="41" fill="#99a7b3"/><rect x="120" y="760" width="41" height="41" fill="#99a6b2"/><rect x="160" y="760" width="41" height="41" fill="#99a6b1"/><rect x="200" y="760" width="41" height="41" fill="#99a5b0"/><rect x="240" y="760" width="41" height="41" fill="#99a4ae"/><rect x="280" y="760" width="41" height="41" fill="#98a4ad"/><rect x="320" y="760" width="41" height="41" fill="#98a4ad"/><rect x="360" y="760" width="41" height="41" fill="#98a4ad"/><rect x="400" y="760" width="41" height="41" fill="#98a4ad"/><rect x="0" y="800" width="41" height="41" fill="#98a7b4"/><rect x="40" y="800" width="41" height="41" fill="#98a7b4"/><rect x="80" y="800" width="41" height="41" fill="#98a7b4"/><rect x="120" y="800" width="41" height="41" fill="#98a7b4"/><rect x="160" y="800" width="41" height="41" fill="#98a6b3"/><rect x="200" y="800" width="41" height="41" fill="#98a6b1"/><rect x="240" y="800" width="41" height="41" fill="#98a5b0"/><rect x="280" y="800" width="41" height="41" fill="#98a4ae"/><rect x="320" y="800" width="41" height="41" fill="#98a4ae"/><rect x="360" y="800" width="41" height="41" fill="#98a4ae"/><rect x="400" y="800" width="41" height="41" fill="#98a4ae"/><rect x="0" y="840" width="41" height="41" fill="#97a7b6"/><rect x="40" y="840" width="41" height="41" fill="#97a7b6"/><rect x="80" y="840" width="41" height="41" fill="#97a7b6"/><rect x="120" y="840" width="41" height="41" fill="#97a7b5"/><rect x="160" y="840" width="41" height="41" fill="#97a6b4"/><rect x="200" y="840" width="41" height="41" fill="#97a6b3"/><rect x="240" y="840" width="41" height="41" fill="#97a5b1"/><rect x="280" y="840" width="41" height="41" fill="#97a5b0"/><rect x="320" y="840" width="41" height="41" fill="#97a5b0"/><rect x="360" y="840" width="41" height="41" fill="#97a5b0"/><rect x="400" y="840" width="41" height="41" fill="#97a5b0"/><rect x="0" y="880" width="41" height="41" fill="#96a7b7"/><rect x="40" y="880" width="41" height="41" fill="#96a7b7"/><rect x="80" y="880" width="41" height="41" fill="#96a7b7"/><rect x="120" y="880" width="41" height="41" fill="#96a6b6"/><rect x="160" y="880" width="41" height="41" fill="#96a6b5"/><rect x="200" y="880" width="41" height="41" fill="#96a6b4"/><rect x="240" y="880" width="41" height="41" fill="#96a5b2"/><rect x="280" y="880" width="41" height="41" fill="#96a5b1"/><rect x="320" y="880" width="41" height="41" fill="#96a5b1"/><rect x="360" y="880" width="41" height="41" fill="#96a5b1"/><rect x="400" y="880" width="41" height="41" fill="#96a5b1"/><rect x="0" y="920" width="41" height="41" fill="#95a6b8"/><rect x="40" y="920" width="41" height="41" fill="#95a6b8"/><rect x="80" y="920" width="41" height="41" fill="#95a6b8"/><rect x="120" y="920" width="41" height="41" fill="#95a6b7"/><rect x="160" y="920" width="41" height="41" fill="#95a6b6"/><rect x="200" y="920" width="41" height="41" fill="#95a5b4"/><rect x="240" y="920" width="41" height="41" fill="#95a5b3"/><rect x="280" y="920" width="41" height="41" fill="#95a5b2"/><rect x="320" y="920" width="41" height="41" fill="#95a5b2"/><rect x="360" y="920" width="41" height="41" fill="#95a5b2"/><rect x="400" y="920" width="41" height="41" fill="#95a5b2"/><rect x="0" y="960" width="41" height="41" fill="#94a6b8"/><rect x="40" y="960" width="41" height="41" fill="#94a6b8"/><rect x="80" y="960" width="41" height="41" fill="#94a6b8"/><rect x="120" y="960" width="41" height="41" fill="#94a6b8"/><rect x="160" y="960" width="41" height="41" fill="#94a5b6"/><rect x="200" y="960" width="41" height="41" fill="#94a5b5"/><rect x="240" y="960" width="41" height="41" fill="#94a5b4"/><rect x="280" y="960" width="41" height="41" fill="#94a4b2"/><rect x="320" y="960" width="41" height="41" fill="#94a4b2"/><rect x="360" y="960" width="41" height="41" fill="#94a4b2"/><rect x="400" y="960" width="41" height="41" fill="#94a4b2"/><rect x="0" y="1000" width="41" height="41" fill="#93a6b9"/><rect x="40" y="1000" width="41" height="41" fill="#93a6b9"/><rect x="80" y="1000" width="41" height="41" fill="#93a6b9"/><rect x="120" y="1000" width="41" height="41" fill="#93a5b8"/><rect x="160" y="1000" width="41" height="41" fill="#93a5b7"/><rect x="200" y="1000" width="41" height="41" fill="#93a4b5"/><rect x="240" y="1000" width="41" height="41" fill="#93a4b4"/><rect x="280" y="1000" width="41" height="41" fill="#93a4b2"/><rect x="320" y="1000" width="41" height="41" fill="#93a4b2"/><rect x="360" y="1000" width="41" height="41" fill="#93a4b2"/><rect x="400" y="1000" width="41" height="41" fill="#93a4b2"/><rect x="0" y="1040" width="41" height="41" fill="#92a5b9"/><rect x="40" y="1040" width="41" height="41" fill="#92a5b9"/><rect x="80" y="1040" width="41" height="41" fill="#92a5b9"/><rect x="120" y="1040" width="41" height="41" fill="#92a5b8"/><rect x="160" y="1040" width="41" height="41" fill="#92a4b7"/><rect x="200" y="1040" width="41" height="41" fill="#92a4b5"/><rect x="240" y="1040" width="41" height="41" fill="#92a3b4"/><rect x="280" y="1040" width="41" height="41" fill="#92a3b3"/><rect x="320" y="1040" width="41" height="41" fill="#92a3b3"/><rect x="360" y="1040" width="41" height="41" fill="#92a3b3"/><rect x="400" y="1040" width="41" height="41" fill="#92a3b3"/><rect x="0" y="1080" width="41" height="41" fill="#92a5b9"/><rect x="40" y="1080" width="41" height="41" fill="#92a5b9"/><rect x="80" y="1080" width="41" height="41" fill="#92a5b9"/><rect x="120" y="1080" width="41" height="41" fill="#92a5b9"/><rect x="160" y="1080" width="41" height="41" fill="#92a4b7"/><rect x="200" y="1080" width="41" height="41" fill="#91a3b5"/><rect x="240" y="1080" width="41" height="41" fill="#91a3b4"/><rect x="280" y="1080" width="41" height="41" fill="#91a2b3"/><rect x="320" y="1080" width="41" height="41" fill="#91a2b3"/><rect x="360" y="1080" width="41" height="41" fill="#91a2b3"/><rect x="400" y="1080" width="41" height="41" fill="#91a2b3"/><rect x="0" y="1120" width="41" height="41" fill="#91a4ba"/><rect x="40" y="1120" width="41" height="41" fill="#91a4ba"/><rect x="80" y="1120" width="41" height="41" fill="#91a4ba"/><rect x="120" y="1120" width="41" height="41" fill="#91a4b9"/><rect x="160" y="1120" width="41" height="41" fill="#91a3b7"/><rect x="200" y="1120" width="41" height="41" fill="#91a3b6"/><rect x="240" y="1120" width="41" height="41" fill="#91a2b4"/><rect x="280" y="1120" width="41" height="41" fill="#91a2b3"/><rect x="320" y="1120" width="41" height="41" fill="#91a2b3"/><rect x="360" y="1120" width="41" height="41" fill="#91a2b3"/><rect x="400" y="1120" width="41" height="41" fill="#91a2b3"/><rect x="0" y="1160" width="41" height="41" fill="#90a4ba"/><rect x="40" y="1160" width="41" height="41" fill="#90a4ba"/><rect x="80" y="1160" width="41" height="41" fill="#90a4ba"/><rect x="120" y="1160" width="41" height="41" fill="#90a4b9"/><rect x="160" y="1160" width="41" height="41" fill="#90a3b7"/><rect x="200" y="1160" width="41" height="41" fill="#90a3b6"/><rect x="240" y="1160" width="41" height="41" fill="#90a2b4"/><rect x="280" y="1160" width="41" height="41" fill="#90a1b3"/><rect x="320" y="1160" width="41" height="41" fill="#90a1b3"/><rect x="360" y="1160" width="41" height="41" fill="#90a1b3"/><rect x="400" y="1160" width="41" height="41" fill="#90a1b3"/><rect x="0" y="1200" width="41" height="41" fill="#90a4ba"/><rect x="40" y="1200" width="41" height="41" fill="#90a4ba"/><rect x="80" y="1200" width="41" height="41" fill="#90a4ba"/><rect x="120" y="1200" width="41" height="41" fill="#90a4b9"/><rect x="160" y="1200" width="41" height="41" fill="#90a3b7"/><rect x="200" y="1200" width="41" height="41" fill="#90a3b6"/><rect x="240" y="1200" width="41" height="41" fill="#90a2b4"/><rect x="280" y="1200" width="41" height="41" fill="#90a1b3"/><rect x="320" y="1200" width="41" height="41" fill="#90a1b3"/><rect x="360" y="1200" width="41" height="41" fill="#90a1b3"/><rect x="400" y="1200" width="41" height="41" fill="#90a1b3"/><rect x="0" y="1240" width="41" height="41" fill="#90a4ba"/><rect x="40" y="1240" width="41" height="41" fill="#90a4ba"/><rect x="80" y="1240" width="41" height="41" fill="#90a4ba"/><rect x="120" y="1240" width="41" height="41" fill="#90a4b9"/><rect x="160" y="1240" width="41" height="41" fill="#90a3b7"/><rect x="200" y="1240" width="41" height="41" fill="#90a3b6"/><rect x="240" y="1240" width="41" height="41" fill="#90a2b4"/><rect x="280" y="1240" width="41" height="41" fill="#90a1b3"/><rect x="320" y="1240" width="41" height="41" fill="#90a1b3"/><rect x="360" y="1240" width="41" height="41" fill="#90a1b3"/><rect x="400" y="1240" width="41" height="41" fill="#90a1b3"/></g></svg>
</div>
<svg class="abs" style="left:0;top:0;filter:blur(0.45px)" width="1850" height="1040"><line x1="1697" y1="0.00" x2="1720" y2="1040.00" stroke="rgba(120,126,130,0.45)" stroke-width="3.5" stroke-linecap="round"/><line x1="1832" y1="950.00" x2="1850" y2="947.00" stroke="#5a6068" stroke-width="1.6" stroke-linecap="round"/><line x1="1790" y1="0.00" x2="1802.5" y2="1040.00" stroke="#3c4147" stroke-width="3.0" stroke-linecap="round"/><polyline points="533.5,-2 533.7,52 724,45.5 724,-2" fill="none" stroke="#33363a" stroke-width="2.8" stroke-linejoin="round" stroke-linecap="round"/><line x1="612.8" y1="-2.00" x2="612.8" y2="49.50" stroke="#33363a" stroke-width="2.8" stroke-linecap="round"/><line x1="691.3" y1="-2.00" x2="691.3" y2="47.00" stroke="#33363a" stroke-width="2.8" stroke-linecap="round"/><line x1="322.3" y1="57.00" x2="324.2" y2="709.50" stroke="#33363a" stroke-width="2.8" stroke-linecap="round"/><line x1="322.5" y1="140.00" x2="332" y2="139.50" stroke="#33363a" stroke-width="2.2" stroke-linecap="round"/><line x1="324" y1="463.00" x2="338" y2="462.00" stroke="#33363a" stroke-width="2.2" stroke-linecap="round"/><line x1="324" y1="619.00" x2="339" y2="617.00" stroke="#33363a" stroke-width="2.4" stroke-linecap="round"/><polyline points="322.5,224 365,224 365,295 322.5,295" fill="none" stroke="#33363a" stroke-width="2.6" stroke-linejoin="round" stroke-linecap="round"/><line x1="324" y1="709.50" x2="1019" y2="713.50" stroke="#33363a" stroke-width="2.8" stroke-linecap="round"/><line x1="371.5" y1="691.00" x2="370" y2="709.00" stroke="#33363a" stroke-width="2.6" stroke-linecap="round"/><line x1="503.5" y1="698.00" x2="502" y2="710.00" stroke="#33363a" stroke-width="2.6" stroke-linecap="round"/><line x1="788.0" y1="698.00" x2="786.5" y2="712.00" stroke="#33363a" stroke-width="2.6" stroke-linecap="round"/><line x1="899.5" y1="698.00" x2="898" y2="712.00" stroke="#33363a" stroke-width="2.6" stroke-linecap="round"/><line x1="1012.5" y1="698.00" x2="1011" y2="713.00" stroke="#33363a" stroke-width="2.6" stroke-linecap="round"/><line x1="1069" y1="713.00" x2="1100" y2="713.00" stroke="#33363a" stroke-width="3" stroke-linecap="round"/><line x1="1176" y1="713.00" x2="1210" y2="713.00" stroke="#33363a" stroke-width="3" stroke-linecap="round"/><line x1="1273.5" y1="712.50" x2="1314" y2="712.50" stroke="#33363a" stroke-width="3" stroke-linecap="round"/><line x1="1320.4" y1="697.00" x2="1320.4" y2="734.00" stroke="#33363a" stroke-width="3" stroke-linecap="round"/><line x1="1343.8" y1="674.00" x2="1343.8" y2="754.00" stroke="#33363a" stroke-width="3" stroke-linecap="round"/><line x1="1370" y1="692.00" x2="1370" y2="731.50" stroke="#33363a" stroke-width="3" stroke-linecap="round"/><line x1="1382" y1="711.00" x2="1407" y2="711.00" stroke="#33363a" stroke-width="2.8" stroke-linecap="round"/><line x1="1408" y1="-2.00" x2="1412" y2="711.00" stroke="#4f545a" stroke-width="2.0" stroke-linecap="round"/><polyline points="1396,57 1407,48 1400,42" fill="none" stroke="#33363a" stroke-width="2.6" stroke-linejoin="round" stroke-linecap="round"/><polyline points="1418,145 1405,151 1415,155" fill="none" stroke="#33363a" stroke-width="2.6" stroke-linejoin="round" stroke-linecap="round"/><polyline points="1396,323 1409,311" fill="none" stroke="#33363a" stroke-width="2.6" stroke-linejoin="round" stroke-linecap="round"/><polyline points="1420,430 1405,440 1427,446" fill="none" stroke="#33363a" stroke-width="2.6" stroke-linejoin="round" stroke-linecap="round"/><polyline points="1400,557 1412,565 1401,574" fill="none" stroke="#33363a" stroke-width="2.6" stroke-linejoin="round" stroke-linecap="round"/><polyline points="1150.5,88 1222.5,88 1222.5,158 1150.5,158 1150.5,88" fill="none" stroke="#33363a" stroke-width="2.8" stroke-linejoin="round" stroke-linecap="round"/><polyline points="1192,158 1192,206 1409,209" fill="none" stroke="#33363a" stroke-width="2.6" stroke-linejoin="round" stroke-linecap="round"/><polyline points="1183,191 1192,183 1186,178" fill="none" stroke="#33363a" stroke-width="2.4" stroke-linejoin="round" stroke-linecap="round"/><polyline points="1262,198 1271,204 1278,196" fill="none" stroke="#33363a" stroke-width="2.4" stroke-linejoin="round" stroke-linecap="round"/><polyline points="1354,222 1362,209 1369,218" fill="none" stroke="#33363a" stroke-width="2.6" stroke-linejoin="round" stroke-linecap="round"/><polyline points="811,342.5 956.5,342.5 956.5,501 811,501 811,342.5" fill="none" stroke="#33363a" stroke-width="3" stroke-linejoin="round" stroke-linecap="round"/><polyline points="591,711 591,639.5 658,639.5 658,711" fill="none" stroke="#33363a" stroke-width="2.8" stroke-linejoin="round" stroke-linecap="round"/><circle cx="567.5" cy="420.2" r="9.3" fill="none" stroke="#191c1f" stroke-width="3"/><circle cx="567.5" cy="420.2" r="2" fill="#191c1f"/><polyline points="129,912.20 156,912.19 183,912.21 210,912.28 237,912.38 264,912.51 291,912.68 318,912.89 344,913.12 371,913.38 398,913.67 425,913.98 452,914.31 479,914.67 506,915.05 533,915.44 560,915.85 587,916.27 614,916.70 641,917.14 668,917.59 695,918.04 722,918.49 748,918.94 775,919.39 802,919.84 829,920.28 856,920.71 883,921.13 910,921.53 937,921.91 964,922.28 991,922.62 1018,922.94 1045,923.23 1072,923.49 1099,923.72 1125,923.91 1152,924.06 1179,924.17 1206,924.24 1233,924.26 1260,924.23 1287,924.14 1314,924.00 1341,923.80 1368,923.53 1395,923.20 1422,922.80 1449,922.32 1476,921.78 1503,921.15 1529,920.44 1556,919.64 1583,918.75 1610,917.77 1637,916.70 1664,915.52 1691,914.24 1718,912.86" fill="none" stroke="#25292d" stroke-width="3.2"/><line x1="129" y1="912.20" x2="129.5" y2="1042.00" stroke="#25292d" stroke-width="3.2" stroke-linecap="round"/><line x1="301.4" y1="912.76" x2="302.8" y2="1042.00" stroke="#25292d" stroke-width="2.8" stroke-linecap="round"/><line x1="560.8" y1="915.86" x2="561.4" y2="1042.00" stroke="#25292d" stroke-width="2.8" stroke-linecap="round"/><line x1="810" y1="919.97" x2="810" y2="1042.00" stroke="#25292d" stroke-width="2.8" stroke-linecap="round"/><line x1="1040.5" y1="923.19" x2="1041" y2="1042.00" stroke="#25292d" stroke-width="2.8" stroke-linecap="round"/><line x1="1266.3" y1="924.21" x2="1267" y2="1042.00" stroke="#25292d" stroke-width="2.8" stroke-linecap="round"/><line x1="1491.3" y1="921.42" x2="1492.7" y2="1042.00" stroke="#25292d" stroke-width="2.8" stroke-linecap="round"/><g transform="translate(527,24) rotate(-80) skewX(0) scale(19.0,19)" fill="none" stroke="#191c1f" stroke-linecap="round" stroke-linejoin="round"><path transform="translate(0.000,0)" d="M0.54,-0.96 C0.2,-0.98 0.0,-0.56 0.03,-0.28 C0.06,0.04 0.56,0.05 0.56,-0.3 C0.56,-0.58 0.18,-0.6 0.04,-0.3" vector-effect="non-scaling-stroke" stroke-width="3.36"/><path transform="translate(0.740,0)" d="M0.14,-0.08 L0.02,0.3" vector-effect="non-scaling-stroke" stroke-width="3.36"/></g><line x1="572" y1="-2" x2="545" y2="19" stroke="#191c1f" stroke-width="3.2" stroke-linecap="round"/><line x1="569" y1="0" x2="553" y2="31" stroke="#3a3d40" stroke-width="1.8" stroke-linecap="round"/><g transform="translate(563,33) rotate(0) skewX(-14) scale(17.2,20)" fill="none" stroke="#191c1f" stroke-linecap="round" stroke-linejoin="round"><path transform="translate(0.000,0)" d="M0.02,-0.72 C0.06,-1.04 0.6,-1.05 0.56,-0.7 C0.52,-0.44 0.1,-0.2 0.0,0 L0.62,-0.02" vector-effect="non-scaling-stroke" stroke-width="3.81"/><path transform="translate(0.730,0)" d="M0.14,-0.08 L0.02,0.3" vector-effect="non-scaling-stroke" stroke-width="3.81"/><path transform="translate(1.090,0)" d="M0.0,-1 L0.62,-1 L0.22,0.02 M0.14,-0.48 L0.52,-0.5" vector-effect="non-scaling-stroke" stroke-width="3.81"/><path transform="translate(1.810,0)" d="M0.0,-1 L0.62,-1 L0.22,0.02 M0.14,-0.48 L0.52,-0.5" vector-effect="non-scaling-stroke" stroke-width="3.81"/></g><g transform="translate(621,8) rotate(0) skewX(-10) scale(14.0,14)" fill="none" stroke="#191c1f" stroke-linecap="round" stroke-linejoin="round"><path transform="translate(0.000,0)" d="M0.02,-0.72 C0.06,-1.04 0.6,-1.05 0.56,-0.7 C0.52,-0.44 0.1,-0.2 0.0,0 L0.62,-0.02" vector-effect="non-scaling-stroke" stroke-width="3.36"/></g><line x1="645" y1="-1" x2="634" y2="31" stroke="#191c1f" stroke-width="2.6" stroke-linecap="round"/><g transform="translate(639,34) rotate(0) skewX(-14) scale(18.900000000000002,21)" fill="none" stroke="#191c1f" stroke-linecap="round" stroke-linejoin="round"><path transform="translate(0.000,0)" d="M0.02,-0.72 C0.06,-1.04 0.6,-1.05 0.56,-0.7 C0.52,-0.44 0.1,-0.2 0.0,0 L0.62,-0.02" vector-effect="non-scaling-stroke" stroke-width="3.81"/><path transform="translate(0.710,0)" d="M0.14,-0.08 L0.02,0.3" vector-effect="non-scaling-stroke" stroke-width="3.81"/><path transform="translate(1.050,0)" d="M0.56,-0.7 C0.56,-1.02 0.05,-1.02 0.05,-0.7 C0.05,-0.42 0.54,-0.42 0.56,-0.7 C0.57,-0.4 0.5,-0.2 0.4,0.04" vector-effect="non-scaling-stroke" stroke-width="3.81"/><path transform="translate(1.730,0)" d="M0.0,-1 L0.62,-1 L0.22,0.02 M0.14,-0.48 L0.52,-0.5" vector-effect="non-scaling-stroke" stroke-width="3.81"/></g><g transform="translate(697,26) rotate(0) skewX(-8) scale(15.0,15)" fill="none" stroke="#191c1f" stroke-linecap="round" stroke-linejoin="round"><path transform="translate(0.000,0)" d="M0.0,-0.9 C0.05,-0.3 0.1,0.1 0.3,-0.2 C0.35,0.05 0.55,0.05 0.62,-0.4 L0.78,-0.9" vector-effect="non-scaling-stroke" stroke-width="3.81"/></g><g transform="translate(326,214) rotate(0) skewX(-18) scale(16.2,18)" fill="none" stroke="#191c1f" stroke-linecap="round" stroke-linejoin="round"><path transform="translate(0.000,0)" d="M0.02,-0.72 C0.06,-1.04 0.6,-1.05 0.56,-0.7 C0.52,-0.44 0.1,-0.2 0.0,0 L0.62,-0.02" vector-effect="non-scaling-stroke" stroke-width="3.36"/><path transform="translate(0.700,0)" d="M0.14,-0.08 L0.02,0.3" vector-effect="non-scaling-stroke" stroke-width="3.36"/><path transform="translate(1.030,0)" d="M0.3,-1 C0.64,-1 0.64,0 0.3,0 C-0.04,0 -0.04,-1 0.3,-1 Z" vector-effect="non-scaling-stroke" stroke-width="3.36"/><path transform="translate(1.680,0)" d="M0.3,-0.52 C-0.02,-0.6 0.02,-1 0.3,-1 C0.58,-1 0.62,-0.6 0.3,-0.52 C-0.04,-0.44 0.0,0 0.3,0 C0.6,0 0.64,-0.44 0.3,-0.52 Z" vector-effect="non-scaling-stroke" stroke-width="3.36"/></g><g transform="translate(324,258) rotate(0) skewX(-14) scale(19.0,19)" fill="none" stroke="#191c1f" stroke-linecap="round" stroke-linejoin="round"><path transform="translate(0.000,0)" d="M0.06,0 L0.08,-1 L0.3,-1 C0.62,-1 0.62,-0.56 0.3,-0.52 C0.66,-0.5 0.66,0 0.3,0 L0.06,0" vector-effect="non-scaling-stroke" stroke-width="4.03"/></g><line x1="351" y1="240" x2="337" y2="287" stroke="#191c1f" stroke-width="2.8" stroke-linecap="round"/><g transform="translate(329,289) rotate(-32) skewX(-8) scale(13.0,13)" fill="none" stroke="#191c1f" stroke-linecap="round" stroke-linejoin="round"><path transform="translate(0.000,0)" d="M0.46,0.02 L0.46,-1 L0.0,-0.32 L0.64,-0.32" vector-effect="non-scaling-stroke" stroke-width="3.81"/><path transform="translate(0.960,0)" d="M0.14,-0.08 L0.02,0.3" vector-effect="non-scaling-stroke" stroke-width="3.81"/><path transform="translate(1.540,0)" d="M0.3,-0.52 C-0.02,-0.6 0.02,-1 0.3,-1 C0.58,-1 0.62,-0.6 0.3,-0.52 C-0.04,-0.44 0.0,0 0.3,0 C0.6,0 0.64,-0.44 0.3,-0.52 Z" vector-effect="non-scaling-stroke" stroke-width="3.81"/></g><g transform="translate(388,295) rotate(-84) skewX(-10) scale(17.85,17)" fill="none" stroke="#191c1f" stroke-linecap="round" stroke-linejoin="round"><path transform="translate(0.000,0)" d="M0.04,-0.88 C0.22,-1.05 0.6,-1.02 0.56,-0.76 C0.52,-0.56 0.28,-0.52 0.22,-0.52 C0.62,-0.5 0.66,-0.2 0.5,-0.07 C0.34,0.05 0.08,0.0 0.0,-0.12" vector-effect="non-scaling-stroke" stroke-width="3.58"/><path transform="translate(0.820,0)" d="M0.14,-0.08 L0.02,0.3" vector-effect="non-scaling-stroke" stroke-width="3.58"/><path transform="translate(1.300,0)" d="M0.3,-1 C0.64,-1 0.64,0 0.3,0 C-0.04,0 -0.04,-1 0.3,-1 Z" vector-effect="non-scaling-stroke" stroke-width="3.58"/><path transform="translate(2.100,0)" d="M0.04,-0.88 C0.22,-1.05 0.6,-1.02 0.56,-0.76 C0.52,-0.56 0.28,-0.52 0.22,-0.52 C0.62,-0.5 0.66,-0.2 0.5,-0.07 C0.34,0.05 0.08,0.0 0.0,-0.12" vector-effect="non-scaling-stroke" stroke-width="3.58"/></g><g transform="translate(586,428) rotate(0) skewX(-16) scale(25.2,28)" fill="none" stroke="#191c1f" stroke-linecap="round" stroke-linejoin="round"><path transform="translate(0.000,0)" d="M0.0,0.02 L0.06,-1 L0.48,0 L0.56,-1" vector-effect="non-scaling-stroke" stroke-width="3.36"/></g><line x1="620" y1="394" x2="612.5" y2="429" stroke="#191c1f" stroke-width="3.4" stroke-linecap="round"/><line x1="603" y1="418" x2="620" y2="394" stroke="#191c1f" stroke-width="2.8" stroke-linecap="round"/><g transform="translate(850,333) rotate(0) skewX(-14) scale(24.0,24)" fill="none" stroke="#191c1f" stroke-linecap="round" stroke-linejoin="round"><path transform="translate(0.000,0)" d="M0.54,-0.96 C0.2,-0.98 0.0,-0.56 0.03,-0.28 C0.06,0.04 0.56,0.05 0.56,-0.3 C0.56,-0.58 0.18,-0.6 0.04,-0.3" vector-effect="non-scaling-stroke" stroke-width="3.81"/><path transform="translate(0.740,0)" d="M0.14,-0.08 L0.02,0.3" vector-effect="non-scaling-stroke" stroke-width="3.81"/><path transform="translate(1.140,0)" d="M0.6,-1 L0.14,-1 L0.06,-0.55 C0.3,-0.66 0.62,-0.56 0.6,-0.28 C0.58,0.04 0.2,0.04 0.0,-0.1" vector-effect="non-scaling-stroke" stroke-width="3.81"/><path transform="translate(1.900,0)" d="M0.6,-1 L0.14,-1 L0.06,-0.55 C0.3,-0.66 0.62,-0.56 0.6,-0.28 C0.58,0.04 0.2,0.04 0.0,-0.1" vector-effect="non-scaling-stroke" stroke-width="3.81"/></g><g transform="translate(805,470) rotate(-88) skewX(-6) scale(28.0,28)" fill="none" stroke="#191c1f" stroke-linecap="round" stroke-linejoin="round"><path transform="translate(0.000,0)" d="M0.56,-0.7 C0.56,-1.02 0.05,-1.02 0.05,-0.7 C0.05,-0.42 0.54,-0.42 0.56,-0.7 C0.57,-0.4 0.5,-0.2 0.4,0.04" vector-effect="non-scaling-stroke" stroke-width="3.58"/><path transform="translate(0.700,0)" d="M0.14,-0.08 L0.02,0.3" vector-effect="non-scaling-stroke" stroke-width="3.58"/><path transform="translate(1.060,0)" d="M0.3,-1 C0.64,-1 0.64,0 0.3,0 C-0.04,0 -0.04,-1 0.3,-1 Z" vector-effect="non-scaling-stroke" stroke-width="3.58"/><path transform="translate(1.740,0)" d="M0.46,0.02 L0.46,-1 L0.0,-0.32 L0.64,-0.32" vector-effect="non-scaling-stroke" stroke-width="3.58"/></g><g transform="translate(842,425) rotate(0) skewX(-10) scale(24.48,34)" fill="none" stroke="#191c1f" stroke-linecap="round" stroke-linejoin="round"><path transform="translate(0.000,0)" d="M0.0,0 L0.34,-1 L0.64,0 M0.12,-0.38 L0.54,-0.4" vector-effect="non-scaling-stroke" stroke-width="3.36"/></g><line x1="889" y1="396" x2="862" y2="445" stroke="#191c1f" stroke-width="3.0" stroke-linecap="round"/><g transform="translate(874,447) rotate(0) skewX(-10) scale(21.599999999999998,30)" fill="none" stroke="#191c1f" stroke-linecap="round" stroke-linejoin="round"><path transform="translate(0.000,0)" d="M0.04,-0.88 C0.22,-1.05 0.6,-1.02 0.56,-0.76 C0.52,-0.56 0.28,-0.52 0.22,-0.52 C0.62,-0.5 0.66,-0.2 0.5,-0.07 C0.34,0.05 0.08,0.0 0.0,-0.12" vector-effect="non-scaling-stroke" stroke-width="3.14"/><path transform="translate(0.700,0)" d="M0.14,-0.08 L0.02,0.3" vector-effect="non-scaling-stroke" stroke-width="3.14"/><path transform="translate(1.060,0)" d="M0.05,-0.72 L0.36,-1 L0.33,0" vector-effect="non-scaling-stroke" stroke-width="3.14"/><path transform="translate(1.590,0)" d="M0.6,-1 L0.14,-1 L0.06,-0.55 C0.3,-0.66 0.62,-0.56 0.6,-0.28 C0.58,0.04 0.2,0.04 0.0,-0.1" vector-effect="non-scaling-stroke" stroke-width="3.14"/></g><g transform="translate(1172,80) rotate(0) skewX(-14) scale(21.0,21)" fill="none" stroke="#191c1f" stroke-linecap="round" stroke-linejoin="round"><path transform="translate(0.000,0)" d="M0.04,-0.88 C0.22,-1.05 0.6,-1.02 0.56,-0.76 C0.52,-0.56 0.28,-0.52 0.22,-0.52 C0.62,-0.5 0.66,-0.2 0.5,-0.07 C0.34,0.05 0.08,0.0 0.0,-0.12" vector-effect="non-scaling-stroke" stroke-width="3.58"/><path transform="translate(0.670,0)" d="M0.14,-0.08 L0.02,0.3" vector-effect="non-scaling-stroke" stroke-width="3.58"/><path transform="translate(1.000,0)" d="M0.05,-0.72 L0.36,-1 L0.33,0" vector-effect="non-scaling-stroke" stroke-width="3.58"/><path transform="translate(1.500,0)" d="M0.46,0.02 L0.46,-1 L0.0,-0.32 L0.64,-0.32" vector-effect="non-scaling-stroke" stroke-width="3.58"/></g><g transform="translate(1158,126) rotate(0) skewX(-6) scale(19.8,22)" fill="none" stroke="#191c1f" stroke-linecap="round" stroke-linejoin="round"><path transform="translate(0.000,0)" d="M0.04,-0.88 C0.22,-1.05 0.6,-1.02 0.56,-0.76 C0.52,-0.56 0.28,-0.52 0.22,-0.52 C0.62,-0.5 0.66,-0.2 0.5,-0.07 C0.34,0.05 0.08,0.0 0.0,-0.12" vector-effect="non-scaling-stroke" stroke-width="3.36"/></g><line x1="1195" y1="104" x2="1177" y2="141" stroke="#191c1f" stroke-width="3.0" stroke-linecap="round"/><g transform="translate(1179,146) rotate(0) skewX(-10) scale(20.0,20)" fill="none" stroke="#191c1f" stroke-linecap="round" stroke-linejoin="round"><path transform="translate(0.000,0)" d="M0.02,-0.72 C0.06,-1.04 0.6,-1.05 0.56,-0.7 C0.52,-0.44 0.1,-0.2 0.0,0 L0.62,-0.02" vector-effect="non-scaling-stroke" stroke-width="3.58"/><path transform="translate(0.700,0)" d="M0.14,-0.08 L0.02,0.3" vector-effect="non-scaling-stroke" stroke-width="3.58"/><path transform="translate(1.030,0)" d="M0.3,-1 C0.64,-1 0.64,0 0.3,0 C-0.04,0 -0.04,-1 0.3,-1 Z" vector-effect="non-scaling-stroke" stroke-width="3.58"/></g><g transform="translate(1249,153) rotate(-88) skewX(-8) scale(21.0,21)" fill="none" stroke="#191c1f" stroke-linecap="round" stroke-linejoin="round"><path transform="translate(0.000,0)" d="M0.04,-0.88 C0.22,-1.05 0.6,-1.02 0.56,-0.76 C0.52,-0.56 0.28,-0.52 0.22,-0.52 C0.62,-0.5 0.66,-0.2 0.5,-0.07 C0.34,0.05 0.08,0.0 0.0,-0.12" vector-effect="non-scaling-stroke" stroke-width="3.36"/><path transform="translate(0.670,0)" d="M0.14,-0.08 L0.02,0.3" vector-effect="non-scaling-stroke" stroke-width="3.36"/><path transform="translate(1.000,0)" d="M0.05,-0.72 L0.36,-1 L0.33,0" vector-effect="non-scaling-stroke" stroke-width="3.36"/><path transform="translate(1.500,0)" d="M0.04,-0.88 C0.22,-1.05 0.6,-1.02 0.56,-0.76 C0.52,-0.56 0.28,-0.52 0.22,-0.52 C0.62,-0.5 0.66,-0.2 0.5,-0.07 C0.34,0.05 0.08,0.0 0.0,-0.12" vector-effect="non-scaling-stroke" stroke-width="3.36"/></g><g transform="translate(612,632) rotate(0) skewX(-12) scale(20.9,22)" fill="none" stroke="#191c1f" stroke-linecap="round" stroke-linejoin="round"><path transform="translate(0.000,0)" d="M0.05,-0.72 L0.36,-1 L0.33,0" vector-effect="non-scaling-stroke" stroke-width="3.36"/><path transform="translate(0.500,0)" d="M0.14,-0.08 L0.02,0.3" vector-effect="non-scaling-stroke" stroke-width="3.36"/><path transform="translate(0.830,0)" d="M0.56,-0.7 C0.56,-1.02 0.05,-1.02 0.05,-0.7 C0.05,-0.42 0.54,-0.42 0.56,-0.7 C0.57,-0.4 0.5,-0.2 0.4,0.04" vector-effect="non-scaling-stroke" stroke-width="3.36"/><path transform="translate(1.500,0)" d="M0.3,-1 C0.64,-1 0.64,0 0.3,0 C-0.04,0 -0.04,-1 0.3,-1 Z" vector-effect="non-scaling-stroke" stroke-width="3.36"/></g><g transform="translate(580,688) rotate(-85) skewX(-6) scale(18.0,18)" fill="none" stroke="#191c1f" stroke-linecap="round" stroke-linejoin="round"><path transform="translate(0.000,0)" d="M0.05,-0.72 L0.36,-1 L0.33,0" vector-effect="non-scaling-stroke" stroke-width="3.14"/><path transform="translate(0.500,0)" d="M0.14,-0.08 L0.02,0.3" vector-effect="non-scaling-stroke" stroke-width="3.14"/><path transform="translate(0.830,0)" d="M0.02,-0.72 C0.06,-1.04 0.6,-1.05 0.56,-0.7 C0.52,-0.44 0.1,-0.2 0.0,0 L0.62,-0.02" vector-effect="non-scaling-stroke" stroke-width="3.14"/><path transform="translate(1.530,0)" d="M0.3,-1 C0.64,-1 0.64,0 0.3,0 C-0.04,0 -0.04,-1 0.3,-1 Z" vector-effect="non-scaling-stroke" stroke-width="3.14"/></g><g transform="translate(601,697) rotate(0) skewX(-14) scale(21.0,28)" fill="none" stroke="#191c1f" stroke-linecap="round" stroke-linejoin="round"><path transform="translate(0.000,0)" d="M0.6,-1 L0.08,-1 L0.05,0 L0.3,0 C0.66,0 0.66,-0.54 0.3,-0.54 L0.06,-0.54" vector-effect="non-scaling-stroke" stroke-width="3.58"/></g><line x1="626" y1="657" x2="611" y2="711" stroke="#191c1f" stroke-width="2.8" stroke-linecap="round"/><g transform="translate(613,706) rotate(0) skewX(-12) scale(18.0,18)" fill="none" stroke="#191c1f" stroke-linecap="round" stroke-linejoin="round"><path transform="translate(0.000,0)" d="M0.05,-0.72 L0.36,-1 L0.33,0" vector-effect="non-scaling-stroke" stroke-width="3.14"/><path transform="translate(0.470,0)" d="M0.14,-0.08 L0.02,0.3" vector-effect="non-scaling-stroke" stroke-width="3.14"/><path transform="translate(0.770,0)" d="M0.54,-0.96 C0.2,-0.98 0.0,-0.56 0.03,-0.28 C0.06,0.04 0.56,0.05 0.56,-0.3 C0.56,-0.58 0.18,-0.6 0.04,-0.3" vector-effect="non-scaling-stroke" stroke-width="3.14"/><path transform="translate(1.410,0)" d="M0.3,-0.52 C-0.02,-0.6 0.02,-1 0.3,-1 C0.58,-1 0.62,-0.6 0.3,-0.52 C-0.04,-0.44 0.0,0 0.3,0 C0.6,0 0.64,-0.44 0.3,-0.52 Z" vector-effect="non-scaling-stroke" stroke-width="3.14"/></g></svg>
<div class="t" style="left:184.0px;top:952.0px;font-size:30px;transform:scaleX(0.986)">Літер</div>
<div class="t" style="left:159.3px;top:994.7px;font-size:30px;transform:scaleX(1.002)">по плану</div>
<div class="t" style="left:397.4px;top:923.0px;font-size:30px;transform:scaleX(1.013)">Назва</div>
<div class="t" style="left:356.0px;top:957.5px;font-size:30px;transform:scaleX(1.037)">допоміжних</div>
<div class="t" style="left:358.5px;top:996.5px;font-size:30px;transform:scaleX(1.030)">будівель та</div>
<div class="t" style="left:621.4px;top:970.1px;font-size:30px;transform:scaleX(1.026)">Площа</div>
<div class="t" style="left:606.0px;top:1003.9px;font-size:30px;transform:scaleX(1.040)">забудови</div>
<div class="t" style="left:876.9px;top:988.5px;font-size:30px;transform:scaleX(1.042)">Висота</div>
<div class="t" style="left:1101.9px;top:991.1px;font-size:30px;transform:scaleX(1.101)">Об'єм</div>
<div class="t" style="left:1292.9px;top:970.0px;font-size:30px;transform:scaleX(1.059)">Самовільно</div>
<div class="t" style="left:1309.9px;top:1008.5px;font-size:30px;transform:scaleX(1.061)">збудовані</div>
<div class="t" style="left:1570.1px;top:934.5px;font-size:30px;transform:scaleX(0.946)">Зняття</div>
<div class="t" style="left:1531.1px;top:965.5px;font-size:30px;transform:scaleX(0.970)">відмітки про</div>
<div class="t" style="left:1538.0px;top:995.5px;font-size:30px;transform:scaleX(0.962)">самовільне</div>
<div class="t" style="left:396px;top:1037px;font-size:30px">споруд</div>
<div class="t" style="left:1531px;top:1029px;font-size:30px;transform:scaleX(0.95)">будівництво</div>
<svg class="abs" style="left:0;top:0" width="1850" height="1040">
<path d="M1564,37 H1704.5 V111.5 H1581 Q1564,111.5 1564,94.5 Z" fill="rgba(255,255,255,0.72)"/>
<rect x="1707" y="37" width="102" height="74.5" fill="rgba(255,255,255,0.72)"/>
<text x="1584.6" y="88" font-family="Liberation Sans" font-weight="bold" font-size="51" fill="#a29c8f" textLength="100" lengthAdjust="spacingAndGlyphs">dom</text>
<g transform="translate(1720,100) rotate(-15.4)" fill="#9a9a9a">
<text x="0" y="0" font-family="Liberation Serif" font-weight="bold" font-size="36" textLength="82" lengthAdjust="spacingAndGlyphs">RIA</text>
</g>
<path d="M1752,49 L1755,56 L1776,53 L1758,60 L1760,68 L1751,62 L1738,66 L1746,59 Z" fill="#9a9a9a"/>
</svg>
</div></body></html>
